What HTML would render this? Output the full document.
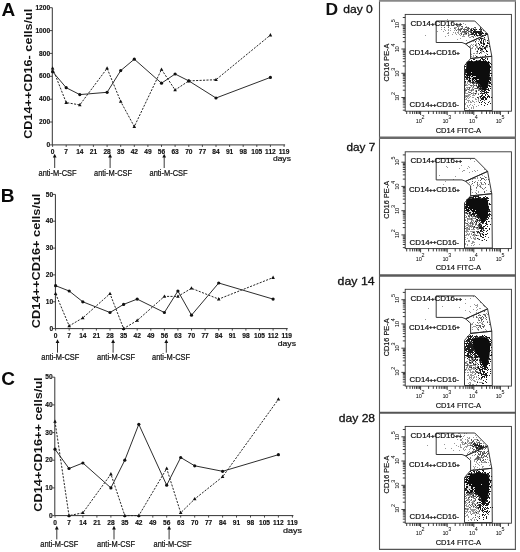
<!DOCTYPE html>
<html><head><meta charset="utf-8"><style>
html,body{margin:0;padding:0;background:#fff;}
svg{display:block;font-family:"Liberation Sans", sans-serif;filter:grayscale(1);}
</style></head><body>
<svg width="520" height="552" viewBox="0 0 520 552">
<defs><filter id="bl" x="-5%" y="-5%" width="110%" height="110%"><feGaussianBlur stdDeviation="0.35"/></filter></defs>
<rect width="520" height="552" fill="#fff"/>
<path d="M52.3,7.7 V144.9 H285.1" fill="none" stroke="#333" stroke-width="1"/>
<text x="50.1" y="147.0" text-anchor="end" font-size="6.6" font-weight="bold" fill="#111" stroke="#111" stroke-width="0.15">0</text>
<text x="50.1" y="124.1" text-anchor="end" font-size="6.6" font-weight="bold" fill="#111" stroke="#111" stroke-width="0.15">200</text>
<text x="50.1" y="101.3" text-anchor="end" font-size="6.6" font-weight="bold" fill="#111" stroke="#111" stroke-width="0.15">400</text>
<text x="50.1" y="78.4" text-anchor="end" font-size="6.6" font-weight="bold" fill="#111" stroke="#111" stroke-width="0.15">600</text>
<text x="50.1" y="55.5" text-anchor="end" font-size="6.6" font-weight="bold" fill="#111" stroke="#111" stroke-width="0.15">800</text>
<text x="50.1" y="32.7" text-anchor="end" font-size="6.6" font-weight="bold" fill="#111" stroke="#111" stroke-width="0.15">1000</text>
<text x="50.1" y="9.8" text-anchor="end" font-size="6.6" font-weight="bold" fill="#111" stroke="#111" stroke-width="0.15">1200</text>
<text x="52.6" y="154.2" text-anchor="middle" font-size="6.6" font-weight="bold" fill="#111" stroke="#111" stroke-width="0.15">0</text>
<text x="66.2" y="154.2" text-anchor="middle" font-size="6.6" font-weight="bold" fill="#111" stroke="#111" stroke-width="0.15">7</text>
<text x="79.8" y="154.2" text-anchor="middle" font-size="6.6" font-weight="bold" fill="#111" stroke="#111" stroke-width="0.15">14</text>
<text x="93.4" y="154.2" text-anchor="middle" font-size="6.6" font-weight="bold" fill="#111" stroke="#111" stroke-width="0.15">21</text>
<text x="107.1" y="154.2" text-anchor="middle" font-size="6.6" font-weight="bold" fill="#111" stroke="#111" stroke-width="0.15">28</text>
<text x="120.7" y="154.2" text-anchor="middle" font-size="6.6" font-weight="bold" fill="#111" stroke="#111" stroke-width="0.15">35</text>
<text x="134.3" y="154.2" text-anchor="middle" font-size="6.6" font-weight="bold" fill="#111" stroke="#111" stroke-width="0.15">42</text>
<text x="147.9" y="154.2" text-anchor="middle" font-size="6.6" font-weight="bold" fill="#111" stroke="#111" stroke-width="0.15">49</text>
<text x="161.5" y="154.2" text-anchor="middle" font-size="6.6" font-weight="bold" fill="#111" stroke="#111" stroke-width="0.15">56</text>
<text x="175.1" y="154.2" text-anchor="middle" font-size="6.6" font-weight="bold" fill="#111" stroke="#111" stroke-width="0.15">63</text>
<text x="188.8" y="154.2" text-anchor="middle" font-size="6.6" font-weight="bold" fill="#111" stroke="#111" stroke-width="0.15">70</text>
<text x="202.4" y="154.2" text-anchor="middle" font-size="6.6" font-weight="bold" fill="#111" stroke="#111" stroke-width="0.15">77</text>
<text x="216.0" y="154.2" text-anchor="middle" font-size="6.6" font-weight="bold" fill="#111" stroke="#111" stroke-width="0.15">84</text>
<text x="229.6" y="154.2" text-anchor="middle" font-size="6.6" font-weight="bold" fill="#111" stroke="#111" stroke-width="0.15">91</text>
<text x="243.2" y="154.2" text-anchor="middle" font-size="6.6" font-weight="bold" fill="#111" stroke="#111" stroke-width="0.15">98</text>
<text x="256.8" y="154.2" text-anchor="middle" font-size="6.6" font-weight="bold" fill="#111" stroke="#111" stroke-width="0.15">105</text>
<text x="270.4" y="154.2" text-anchor="middle" font-size="6.6" font-weight="bold" fill="#111" stroke="#111" stroke-width="0.15">112</text>
<text x="284.1" y="154.2" text-anchor="middle" font-size="6.6" font-weight="bold" fill="#111" stroke="#111" stroke-width="0.15">119</text>
<path d="M49.8,144.9H52.3M49.8,122.0H52.3M49.8,99.2H52.3M49.8,76.3H52.3M49.8,53.4H52.3M49.8,30.6H52.3M49.8,7.7H52.3M52.6,144.9V146.9M66.2,144.9V146.9M79.8,144.9V146.9M93.4,144.9V146.9M107.1,144.9V146.9M120.7,144.9V146.9M134.3,144.9V146.9M147.9,144.9V146.9M161.5,144.9V146.9M175.1,144.9V146.9M188.8,144.9V146.9M202.4,144.9V146.9M216.0,144.9V146.9M229.6,144.9V146.9M243.2,144.9V146.9M256.8,144.9V146.9M270.4,144.9V146.9M284.1,144.9V146.9" stroke="#333" stroke-width="0.9"/>
<polyline points="52.6,68.3 66.2,102.6 79.8,104.9 107.1,68.3 120.7,101.5 134.3,126.6 161.5,69.4 175.1,90.0 188.8,80.9 216.0,79.7 270.4,35.1" fill="none" stroke="#262626" stroke-width="1" stroke-dasharray="2.1,1.35"/>
<polyline points="52.6,71.7 66.2,87.7 79.8,94.6 107.1,92.3 120.7,70.6 134.3,59.2 161.5,83.2 175.1,74.0 188.8,80.9 216.0,98.0 270.4,77.4" fill="none" stroke="#222" stroke-width="0.95"/>
<circle cx="52.6" cy="71.7" r="1.6" fill="#111"/>
<circle cx="66.2" cy="87.7" r="1.6" fill="#111"/>
<circle cx="79.8" cy="94.6" r="1.6" fill="#111"/>
<circle cx="107.1" cy="92.3" r="1.6" fill="#111"/>
<circle cx="120.7" cy="70.6" r="1.6" fill="#111"/>
<circle cx="134.3" cy="59.2" r="1.6" fill="#111"/>
<circle cx="161.5" cy="83.2" r="1.6" fill="#111"/>
<circle cx="175.1" cy="74.0" r="1.6" fill="#111"/>
<circle cx="188.8" cy="80.9" r="1.6" fill="#111"/>
<circle cx="216.0" cy="98.0" r="1.6" fill="#111"/>
<circle cx="270.4" cy="77.4" r="1.6" fill="#111"/>
<path d="M52.6,66.3L54.4,69.6L50.8,69.6Z" fill="#111"/>
<path d="M66.2,100.6L68.0,103.9L64.4,103.9Z" fill="#111"/>
<path d="M79.8,102.9L81.6,106.2L78.0,106.2Z" fill="#111"/>
<path d="M107.1,66.3L108.9,69.6L105.3,69.6Z" fill="#111"/>
<path d="M120.7,99.5L122.5,102.8L118.9,102.8Z" fill="#111"/>
<path d="M134.3,124.6L136.1,127.9L132.5,127.9Z" fill="#111"/>
<path d="M161.5,67.4L163.3,70.7L159.7,70.7Z" fill="#111"/>
<path d="M175.1,88.0L176.9,91.3L173.3,91.3Z" fill="#111"/>
<path d="M188.8,78.9L190.6,82.2L186.9,82.2Z" fill="#111"/>
<path d="M216.0,77.7L217.8,81.0L214.2,81.0Z" fill="#111"/>
<path d="M270.4,33.1L272.2,36.4L268.6,36.4Z" fill="#111"/>
<text x="272.9" y="160.9" font-size="7.9" fill="#111" stroke="#111" stroke-width="0.2" textLength="18.0" lengthAdjust="spacingAndGlyphs">days</text>
<path d="M54.7,168.0V156.3" stroke="#222" stroke-width="0.9"/>
<path d="M52.8,157.6L54.7,153.8L56.6,157.6Z" fill="#111"/>
<text x="57.5" y="175.6" text-anchor="middle" font-size="8.2" fill="#111" stroke="#111" stroke-width="0.22" textLength="38" lengthAdjust="spacingAndGlyphs">anti-M-CSF</text>
<path d="M110.1,168.0V156.3" stroke="#222" stroke-width="0.9"/>
<path d="M108.2,157.6L110.1,153.8L112.0,157.6Z" fill="#111"/>
<text x="113.0" y="175.6" text-anchor="middle" font-size="8.2" fill="#111" stroke="#111" stroke-width="0.22" textLength="38" lengthAdjust="spacingAndGlyphs">anti-M-CSF</text>
<path d="M164.2,168.0V156.3" stroke="#222" stroke-width="0.9"/>
<path d="M162.3,157.6L164.2,153.8L166.1,157.6Z" fill="#111"/>
<text x="168.5" y="175.6" text-anchor="middle" font-size="8.2" fill="#111" stroke="#111" stroke-width="0.22" textLength="38" lengthAdjust="spacingAndGlyphs">anti-M-CSF</text>
<text transform="translate(32.400000000000006,73.8) rotate(-90)" text-anchor="middle" font-size="10.6" font-weight="bold" fill="#111" textLength="130.1" lengthAdjust="spacingAndGlyphs">CD14++CD16- cells/ul</text>
<text x="1.5" y="16.3" font-size="19" font-weight="bold" fill="#0a0a0a">A</text>
<path d="M55.4,194.4 V328.6 H287.7" fill="none" stroke="#333" stroke-width="1"/>
<text x="53.2" y="330.7" text-anchor="end" font-size="6.6" font-weight="bold" fill="#111" stroke="#111" stroke-width="0.15">0</text>
<text x="53.2" y="303.9" text-anchor="end" font-size="6.6" font-weight="bold" fill="#111" stroke="#111" stroke-width="0.15">10</text>
<text x="53.2" y="277.0" text-anchor="end" font-size="6.6" font-weight="bold" fill="#111" stroke="#111" stroke-width="0.15">20</text>
<text x="53.2" y="250.2" text-anchor="end" font-size="6.6" font-weight="bold" fill="#111" stroke="#111" stroke-width="0.15">30</text>
<text x="53.2" y="223.3" text-anchor="end" font-size="6.6" font-weight="bold" fill="#111" stroke="#111" stroke-width="0.15">40</text>
<text x="53.2" y="196.5" text-anchor="end" font-size="6.6" font-weight="bold" fill="#111" stroke="#111" stroke-width="0.15">50</text>
<text x="55.6" y="337.9" text-anchor="middle" font-size="6.6" font-weight="bold" fill="#111" stroke="#111" stroke-width="0.15">0</text>
<text x="69.2" y="337.9" text-anchor="middle" font-size="6.6" font-weight="bold" fill="#111" stroke="#111" stroke-width="0.15">7</text>
<text x="82.8" y="337.9" text-anchor="middle" font-size="6.6" font-weight="bold" fill="#111" stroke="#111" stroke-width="0.15">14</text>
<text x="96.4" y="337.9" text-anchor="middle" font-size="6.6" font-weight="bold" fill="#111" stroke="#111" stroke-width="0.15">21</text>
<text x="110.0" y="337.9" text-anchor="middle" font-size="6.6" font-weight="bold" fill="#111" stroke="#111" stroke-width="0.15">28</text>
<text x="123.6" y="337.9" text-anchor="middle" font-size="6.6" font-weight="bold" fill="#111" stroke="#111" stroke-width="0.15">35</text>
<text x="137.2" y="337.9" text-anchor="middle" font-size="6.6" font-weight="bold" fill="#111" stroke="#111" stroke-width="0.15">42</text>
<text x="150.8" y="337.9" text-anchor="middle" font-size="6.6" font-weight="bold" fill="#111" stroke="#111" stroke-width="0.15">49</text>
<text x="164.4" y="337.9" text-anchor="middle" font-size="6.6" font-weight="bold" fill="#111" stroke="#111" stroke-width="0.15">56</text>
<text x="177.9" y="337.9" text-anchor="middle" font-size="6.6" font-weight="bold" fill="#111" stroke="#111" stroke-width="0.15">63</text>
<text x="191.5" y="337.9" text-anchor="middle" font-size="6.6" font-weight="bold" fill="#111" stroke="#111" stroke-width="0.15">70</text>
<text x="205.1" y="337.9" text-anchor="middle" font-size="6.6" font-weight="bold" fill="#111" stroke="#111" stroke-width="0.15">77</text>
<text x="218.7" y="337.9" text-anchor="middle" font-size="6.6" font-weight="bold" fill="#111" stroke="#111" stroke-width="0.15">84</text>
<text x="232.3" y="337.9" text-anchor="middle" font-size="6.6" font-weight="bold" fill="#111" stroke="#111" stroke-width="0.15">91</text>
<text x="245.9" y="337.9" text-anchor="middle" font-size="6.6" font-weight="bold" fill="#111" stroke="#111" stroke-width="0.15">98</text>
<text x="259.5" y="337.9" text-anchor="middle" font-size="6.6" font-weight="bold" fill="#111" stroke="#111" stroke-width="0.15">105</text>
<text x="273.1" y="337.9" text-anchor="middle" font-size="6.6" font-weight="bold" fill="#111" stroke="#111" stroke-width="0.15">112</text>
<text x="286.7" y="337.9" text-anchor="middle" font-size="6.6" font-weight="bold" fill="#111" stroke="#111" stroke-width="0.15">119</text>
<path d="M52.9,328.6H55.4M52.9,301.8H55.4M52.9,274.9H55.4M52.9,248.1H55.4M52.9,221.2H55.4M52.9,194.4H55.4M55.6,328.6V330.6M69.2,328.6V330.6M82.8,328.6V330.6M96.4,328.6V330.6M110.0,328.6V330.6M123.6,328.6V330.6M137.2,328.6V330.6M150.8,328.6V330.6M164.4,328.6V330.6M177.9,328.6V330.6M191.5,328.6V330.6M205.1,328.6V330.6M218.7,328.6V330.6M232.3,328.6V330.6M245.9,328.6V330.6M259.5,328.6V330.6M273.1,328.6V330.6M286.7,328.6V330.6" stroke="#333" stroke-width="0.9"/>
<polyline points="55.6,293.7 69.2,325.9 82.8,317.9 110.0,293.7 123.6,328.6 137.2,320.5 164.4,296.4 177.9,296.4 191.5,288.3 218.7,299.1 273.1,277.6" fill="none" stroke="#262626" stroke-width="1" stroke-dasharray="2.1,1.35"/>
<polyline points="55.6,285.7 69.2,291.0 82.8,301.8 110.0,312.5 123.6,304.4 137.2,299.1 164.4,312.5 177.9,291.0 191.5,315.2 218.7,283.0 273.1,299.1" fill="none" stroke="#222" stroke-width="0.95"/>
<circle cx="55.6" cy="285.7" r="1.6" fill="#111"/>
<circle cx="69.2" cy="291.0" r="1.6" fill="#111"/>
<circle cx="82.8" cy="301.8" r="1.6" fill="#111"/>
<circle cx="110.0" cy="312.5" r="1.6" fill="#111"/>
<circle cx="123.6" cy="304.4" r="1.6" fill="#111"/>
<circle cx="137.2" cy="299.1" r="1.6" fill="#111"/>
<circle cx="164.4" cy="312.5" r="1.6" fill="#111"/>
<circle cx="177.9" cy="291.0" r="1.6" fill="#111"/>
<circle cx="191.5" cy="315.2" r="1.6" fill="#111"/>
<circle cx="218.7" cy="283.0" r="1.6" fill="#111"/>
<circle cx="273.1" cy="299.1" r="1.6" fill="#111"/>
<path d="M55.6,291.7L57.4,295.0L53.8,295.0Z" fill="#111"/>
<path d="M69.2,323.9L71.0,327.2L67.4,327.2Z" fill="#111"/>
<path d="M82.8,315.9L84.6,319.2L81.0,319.2Z" fill="#111"/>
<path d="M110.0,291.7L111.8,295.0L108.2,295.0Z" fill="#111"/>
<path d="M123.6,326.6L125.4,329.9L121.8,329.9Z" fill="#111"/>
<path d="M137.2,318.5L139.0,321.8L135.4,321.8Z" fill="#111"/>
<path d="M164.4,294.4L166.2,297.7L162.6,297.7Z" fill="#111"/>
<path d="M177.9,294.4L179.7,297.7L176.1,297.7Z" fill="#111"/>
<path d="M191.5,286.3L193.3,289.6L189.7,289.6Z" fill="#111"/>
<path d="M218.7,297.1L220.5,300.4L216.9,300.4Z" fill="#111"/>
<path d="M273.1,275.6L274.9,278.9L271.3,278.9Z" fill="#111"/>
<text x="277.7" y="346.2" font-size="7.9" fill="#111" stroke="#111" stroke-width="0.2" textLength="18.3" lengthAdjust="spacingAndGlyphs">days</text>
<path d="M57.5,352.7V341.8" stroke="#222" stroke-width="0.9"/>
<path d="M55.6,343.1L57.5,339.3L59.4,343.1Z" fill="#111"/>
<text x="60.3" y="359.6" text-anchor="middle" font-size="8.2" fill="#111" stroke="#111" stroke-width="0.22" textLength="38" lengthAdjust="spacingAndGlyphs">anti-M-CSF</text>
<path d="M113.1,352.7V341.8" stroke="#222" stroke-width="0.9"/>
<path d="M111.2,343.1L113.1,339.3L115.0,343.1Z" fill="#111"/>
<text x="116.1" y="359.6" text-anchor="middle" font-size="8.2" fill="#111" stroke="#111" stroke-width="0.22" textLength="38" lengthAdjust="spacingAndGlyphs">anti-M-CSF</text>
<path d="M166.3,352.7V341.8" stroke="#222" stroke-width="0.9"/>
<path d="M164.4,343.1L166.3,339.3L168.2,343.1Z" fill="#111"/>
<text x="171.0" y="359.6" text-anchor="middle" font-size="8.2" fill="#111" stroke="#111" stroke-width="0.22" textLength="38" lengthAdjust="spacingAndGlyphs">anti-M-CSF</text>
<text transform="translate(39.900000000000006,260.9) rotate(-90)" text-anchor="middle" font-size="10.6" font-weight="bold" fill="#111" textLength="134.5" lengthAdjust="spacingAndGlyphs">CD14++CD16+ cells/ul</text>
<text x="0.7" y="202.4" font-size="19" font-weight="bold" fill="#0a0a0a">B</text>
<path d="M54.8,377.2 V515.6 H293.4" fill="none" stroke="#333" stroke-width="1"/>
<text x="52.6" y="517.7" text-anchor="end" font-size="6.6" font-weight="bold" fill="#111" stroke="#111" stroke-width="0.15">0</text>
<text x="52.6" y="490.0" text-anchor="end" font-size="6.6" font-weight="bold" fill="#111" stroke="#111" stroke-width="0.15">10</text>
<text x="52.6" y="462.3" text-anchor="end" font-size="6.6" font-weight="bold" fill="#111" stroke="#111" stroke-width="0.15">20</text>
<text x="52.6" y="434.7" text-anchor="end" font-size="6.6" font-weight="bold" fill="#111" stroke="#111" stroke-width="0.15">30</text>
<text x="52.6" y="407.0" text-anchor="end" font-size="6.6" font-weight="bold" fill="#111" stroke="#111" stroke-width="0.15">40</text>
<text x="52.6" y="379.3" text-anchor="end" font-size="6.6" font-weight="bold" fill="#111" stroke="#111" stroke-width="0.15">50</text>
<text x="55.0" y="524.9" text-anchor="middle" font-size="6.6" font-weight="bold" fill="#111" stroke="#111" stroke-width="0.15">0</text>
<text x="69.0" y="524.9" text-anchor="middle" font-size="6.6" font-weight="bold" fill="#111" stroke="#111" stroke-width="0.15">7</text>
<text x="82.9" y="524.9" text-anchor="middle" font-size="6.6" font-weight="bold" fill="#111" stroke="#111" stroke-width="0.15">14</text>
<text x="96.9" y="524.9" text-anchor="middle" font-size="6.6" font-weight="bold" fill="#111" stroke="#111" stroke-width="0.15">21</text>
<text x="110.9" y="524.9" text-anchor="middle" font-size="6.6" font-weight="bold" fill="#111" stroke="#111" stroke-width="0.15">28</text>
<text x="124.8" y="524.9" text-anchor="middle" font-size="6.6" font-weight="bold" fill="#111" stroke="#111" stroke-width="0.15">35</text>
<text x="138.8" y="524.9" text-anchor="middle" font-size="6.6" font-weight="bold" fill="#111" stroke="#111" stroke-width="0.15">42</text>
<text x="152.8" y="524.9" text-anchor="middle" font-size="6.6" font-weight="bold" fill="#111" stroke="#111" stroke-width="0.15">49</text>
<text x="166.7" y="524.9" text-anchor="middle" font-size="6.6" font-weight="bold" fill="#111" stroke="#111" stroke-width="0.15">56</text>
<text x="180.7" y="524.9" text-anchor="middle" font-size="6.6" font-weight="bold" fill="#111" stroke="#111" stroke-width="0.15">63</text>
<text x="194.7" y="524.9" text-anchor="middle" font-size="6.6" font-weight="bold" fill="#111" stroke="#111" stroke-width="0.15">70</text>
<text x="208.6" y="524.9" text-anchor="middle" font-size="6.6" font-weight="bold" fill="#111" stroke="#111" stroke-width="0.15">77</text>
<text x="222.6" y="524.9" text-anchor="middle" font-size="6.6" font-weight="bold" fill="#111" stroke="#111" stroke-width="0.15">84</text>
<text x="236.5" y="524.9" text-anchor="middle" font-size="6.6" font-weight="bold" fill="#111" stroke="#111" stroke-width="0.15">91</text>
<text x="250.5" y="524.9" text-anchor="middle" font-size="6.6" font-weight="bold" fill="#111" stroke="#111" stroke-width="0.15">98</text>
<text x="264.5" y="524.9" text-anchor="middle" font-size="6.6" font-weight="bold" fill="#111" stroke="#111" stroke-width="0.15">105</text>
<text x="278.4" y="524.9" text-anchor="middle" font-size="6.6" font-weight="bold" fill="#111" stroke="#111" stroke-width="0.15">112</text>
<text x="292.4" y="524.9" text-anchor="middle" font-size="6.6" font-weight="bold" fill="#111" stroke="#111" stroke-width="0.15">119</text>
<path d="M52.3,515.6H54.8M52.3,487.9H54.8M52.3,460.2H54.8M52.3,432.6H54.8M52.3,404.9H54.8M52.3,377.2H54.8M55.0,515.6V517.6M69.0,515.6V517.6M82.9,515.6V517.6M96.9,515.6V517.6M110.9,515.6V517.6M124.8,515.6V517.6M138.8,515.6V517.6M152.8,515.6V517.6M166.7,515.6V517.6M180.7,515.6V517.6M194.7,515.6V517.6M208.6,515.6V517.6M222.6,515.6V517.6M236.5,515.6V517.6M250.5,515.6V517.6M264.5,515.6V517.6M278.4,515.6V517.6M292.4,515.6V517.6" stroke="#333" stroke-width="0.9"/>
<polyline points="55.0,421.5 69.0,515.6 82.9,512.8 110.9,474.1 124.8,515.6 138.8,515.6 166.7,468.5 180.7,512.8 194.7,499.0 222.6,476.8 278.4,399.3" fill="none" stroke="#262626" stroke-width="1" stroke-dasharray="2.1,1.35"/>
<polyline points="55.0,449.2 69.0,468.5 82.9,463.0 110.9,487.9 124.8,460.2 138.8,424.3 166.7,485.2 180.7,457.5 194.7,465.8 222.6,471.3 278.4,454.7" fill="none" stroke="#222" stroke-width="0.95"/>
<circle cx="55.0" cy="449.2" r="1.6" fill="#111"/>
<circle cx="69.0" cy="468.5" r="1.6" fill="#111"/>
<circle cx="82.9" cy="463.0" r="1.6" fill="#111"/>
<circle cx="110.9" cy="487.9" r="1.6" fill="#111"/>
<circle cx="124.8" cy="460.2" r="1.6" fill="#111"/>
<circle cx="138.8" cy="424.3" r="1.6" fill="#111"/>
<circle cx="166.7" cy="485.2" r="1.6" fill="#111"/>
<circle cx="180.7" cy="457.5" r="1.6" fill="#111"/>
<circle cx="194.7" cy="465.8" r="1.6" fill="#111"/>
<circle cx="222.6" cy="471.3" r="1.6" fill="#111"/>
<circle cx="278.4" cy="454.7" r="1.6" fill="#111"/>
<path d="M55.0,419.5L56.8,422.8L53.2,422.8Z" fill="#111"/>
<path d="M69.0,513.6L70.8,516.9L67.2,516.9Z" fill="#111"/>
<path d="M82.9,510.8L84.7,514.1L81.1,514.1Z" fill="#111"/>
<path d="M110.9,472.1L112.7,475.4L109.1,475.4Z" fill="#111"/>
<path d="M124.8,513.6L126.6,516.9L123.0,516.9Z" fill="#111"/>
<path d="M138.8,513.6L140.6,516.9L137.0,516.9Z" fill="#111"/>
<path d="M166.7,466.5L168.5,469.8L164.9,469.8Z" fill="#111"/>
<path d="M180.7,510.8L182.5,514.1L178.9,514.1Z" fill="#111"/>
<path d="M194.7,497.0L196.5,500.3L192.8,500.3Z" fill="#111"/>
<path d="M222.6,474.8L224.4,478.1L220.8,478.1Z" fill="#111"/>
<path d="M278.4,397.3L280.2,400.6L276.6,400.6Z" fill="#111"/>
<text x="283" y="532.8" font-size="7.9" fill="#111" stroke="#111" stroke-width="0.2" textLength="19.0" lengthAdjust="spacingAndGlyphs">days</text>
<path d="M56.8,539.4V528.3" stroke="#222" stroke-width="0.9"/>
<path d="M54.9,529.6L56.8,525.8L58.7,529.6Z" fill="#111"/>
<text x="59.3" y="546.8" text-anchor="middle" font-size="8.2" fill="#111" stroke="#111" stroke-width="0.22" textLength="38" lengthAdjust="spacingAndGlyphs">anti-M-CSF</text>
<path d="M114.0,539.4V528.3" stroke="#222" stroke-width="0.9"/>
<path d="M112.1,529.6L114.0,525.8L115.9,529.6Z" fill="#111"/>
<text x="116.1" y="546.8" text-anchor="middle" font-size="8.2" fill="#111" stroke="#111" stroke-width="0.22" textLength="38" lengthAdjust="spacingAndGlyphs">anti-M-CSF</text>
<path d="M169.1,539.4V528.3" stroke="#222" stroke-width="0.9"/>
<path d="M167.2,529.6L169.1,525.8L171.0,529.6Z" fill="#111"/>
<text x="172.5" y="546.8" text-anchor="middle" font-size="8.2" fill="#111" stroke="#111" stroke-width="0.22" textLength="38" lengthAdjust="spacingAndGlyphs">anti-M-CSF</text>
<text transform="translate(42.2,444.5) rotate(-90)" text-anchor="middle" font-size="10.6" font-weight="bold" fill="#111" textLength="134.3" lengthAdjust="spacingAndGlyphs">CD14+CD16++ cells/ul</text>
<text x="1.2" y="385.1" font-size="19" font-weight="bold" fill="#0a0a0a">C</text>
<path d="M379.5,0 V549.4 M515.4,0 V549.4" stroke="#555" stroke-width="1.1"/>
<path d="M379,0.8 H516" stroke="#888" stroke-width="1.7"/>
<path d="M379,137.7 H516" stroke="#6a6a6a" stroke-width="2.6"/>
<path d="M379,275.5 H516" stroke="#5a5a5a" stroke-width="2.3"/>
<path d="M379,412.8 H516" stroke="#555" stroke-width="2"/>
<path d="M379,549.4 H516" stroke="#555" stroke-width="1.3"/>
<text x="325.6" y="15.4" font-size="16.6" font-weight="bold" fill="#111" textLength="12.6" lengthAdjust="spacingAndGlyphs">D</text>
<rect x="405.2" y="14.4" width="106.2" height="96.8" fill="none" stroke="#333" stroke-width="0.9"/>
<text x="343.2" y="12.5" font-size="11.3" fill="#111" stroke="#111" stroke-width="0.3" textLength="29.6" lengthAdjust="spacingAndGlyphs">day 0</text>
<g filter="url(#bl)">
<path d="M0 0m447 19h1v1h-1zm16 4h1v1h-1zm2 1h1v1h-1zm-8 1h1v1h-1zm1 0h1v1h-1zm1 0h1v1h-1zm-11 1h1v1h-1zm9 0h1v1h-1zm1 0h1v1h-1zm1 0h1v1h-1zm7 0h1v1h-1zm-25 1h1v1h-1zm13 0h1v1h-1zm1 0h1v1h-1zm1 0h1v1h-1zm2 0h1v1h-1zm4 0h1v1h-1zm4 0h1v1h-1zm1 0h1v1h-1zm-17 1h1v1h-1zm4 0h1v1h-1zm1 0h1v1h-1zm5 0h1v1h-1zm4 0h1v1h-1zm3 0h1v1h-1zm1 0h1v1h-1zm4 0h1v1h-1zm3 0h1v1h-1zm-34 1h1v1h-1zm3 0h1v1h-1zm4 0h1v1h-1zm7 0h1v1h-1zm2 0h1v1h-1zm4 0h1v1h-1zm5 0h1v1h-1zm1 0h1v1h-1zm1 0h1v1h-1zm-23 1h1v1h-1zm3 0h1v1h-1zm2 0h1v1h-1zm4 0h1v1h-1zm2 0h1v1h-1zm2 0h1v1h-1zm1 0h1v1h-1zm5 0h1v1h-1zm2 0h1v1h-1zm2 0h1v1h-1zm7 0h1v1h-1zm5 0h1v1h-1zm-43 1h1v1h-1zm6 0h1v1h-1zm15 0h1v1h-1zm2 0h1v1h-1zm2 0h1v1h-1zm1 0h1v1h-1zm5 0h1v1h-1zm9 0h1v1h-1zm-29 1h1v1h-1zm5 0h1v1h-1zm2 0h1v1h-1zm2 0h1v1h-1zm1 0h1v1h-1zm3 0h1v1h-1zm1 0h1v1h-1zm1 0h1v1h-1zm3 0h1v1h-1zm1 0h1v1h-1zm1 0h1v1h-1zm2 0h1v1h-1zm1 0h1v1h-1zm1 0h1v1h-1zm2 0h1v1h-1zm-27 1h1v1h-1zm1 0h1v1h-1zm7 0h1v1h-1zm3 0h1v1h-1zm2 0h1v1h-1zm4 0h1v1h-1zm-12 1h1v1h-1zm4 0h1v1h-1zm3 0h1v1h-1zm5 0h1v1h-1zm1 0h1v1h-1zm1 0h1v1h-1zm2 0h1v1h-1zm1 0h1v1h-1zm-44 1h1v1h-1zm23 0h1v1h-1zm12 0h1v1h-1zm3 0h1v1h-1zm6 0h1v1h-1zm12 0h1v1h-1zm-36 1h1v1h-1zm17 0h1v1h-1zm1 0h1v1h-1zm1 0h1v1h-1zm4 0h1v1h-1zm3 0h1v1h-1zm2 0h1v1h-1zm2 0h1v1h-1zm2 0h1v1h-1zm-8 1h1v1h-1zm1 0h1v1h-1zm-10 1h1v1h-1zm16 0h1v1h-1zm4 0h1v1h-1zm3 0h1v1h-1zm1 0h1v1h-1zm-27 1h1v1h-1zm18 0h1v1h-1zm3 0h1v1h-1zm5 0h1v1h-1zm2 0h1v1h-1zm-19 1h1v1h-1zm8 0h1v1h-1zm2 0h1v1h-1zm3 0h1v1h-1zm6 0h1v1h-1zm-12 1h1v1h-1zm2 0h1v1h-1zm3 0h1v1h-1zm3 0h1v1h-1zm4 0h1v1h-1zm-10 1h1v1h-1zm6 0h1v1h-1zm-5 1h1v1h-1zm4 0h1v1h-1zm2 0h1v1h-1zm6 0h1v1h-1zm-17 1h1v1h-1zm2 0h1v1h-1zm2 0h1v1h-1zm1 0h1v1h-1zm-6 1h1v1h-1zm2 0h1v1h-1zm4 0h1v1h-1zm3 0h1v1h-1zm2 0h1v1h-1zm2 0h1v1h-1zm-14 1h1v1h-1zm1 0h1v1h-1zm3 0h1v1h-1zm3 0h1v1h-1zm1 0h1v1h-1zm3 0h1v1h-1zm2 0h1v1h-1zm3 0h1v1h-1zm2 0h1v1h-1zm-17 1h1v1h-1zm2 0h1v1h-1zm4 0h1v1h-1zm1 0h1v1h-1zm3 0h1v1h-1zm2 0h1v1h-1zm4 0h1v1h-1zm1 0h1v1h-1zm-16 1h1v1h-1zm1 0h1v1h-1zm3 0h1v1h-1zm2 0h1v1h-1zm2 0h1v1h-1zm1 0h1v1h-1zm1 0h1v1h-1zm1 0h1v1h-1zm1 0h1v1h-1zm-8 1h1v1h-1zm5 0h1v1h-1zm-3 1h1v1h-1zm3 0h1v1h-1zm1 0h1v1h-1zm1 0h1v1h-1zm-6 1h1v1h-1zm5 0h1v1h-1zm1 0h1v1h-1zm-5 1h1v1h-1zm3 0h1v1h-1zm1 0h1v1h-1zm3 0h1v1h-1zm-14 1h1v1h-1zm3 0h1v1h-1zm1 0h1v1h-1zm2 0h1v1h-1zm1 0h1v1h-1zm2 0h1v1h-1zm2 0h1v1h-1zm5 0h1v1h-1zm-15 1h1v1h-1zm2 1h1v1h-1zm2 0h1v1h-1zm-4 1h1v1h-1zm2 0h1v1h-1zm3 0h1v1h-1zm1 0h1v1h-1zm3 0h1v1h-1zm2 0h1v1h-1zm-7 1h1v1h-1zm3 3h1v1h-1zm-11 3h1v1h-1zm8 0h1v1h-1zm-3 3h1v1h-1zm0 2h1v1h-1zm4 0h1v1h-1zm-6 1h1v1h-1zm-5 1h1v1h-1zm15 0h1v1h-1zm-14 1h1v1h-1zm7 0h1v1h-1zm-5 1h1v1h-1zm5 0h1v1h-1zm-1 1h1v1h-1zm4 0h1v1h-1zm-4 1h1v1h-1zm-8 1h1v1h-1zm4 0h1v1h-1zm1 0h1v1h-1zm2 0h1v1h-1zm-7 1h1v1h-1zm4 0h1v1h-1zm4 0h1v1h-1zm-7 1h1v1h-1zm2 0h1v1h-1zm1 0h1v1h-1zm4 0h1v1h-1zm1 0h1v1h-1zm-5 1h1v1h-1zm3 0h1v1h-1zm3 0h1v1h-1zm-9 1h1v1h-1zm2 0h1v1h-1zm1 0h1v1h-1zm4 0h1v1h-1zm3 0h1v1h-1zm-5 1h1v1h-1zm1 0h1v1h-1zm2 0h1v1h-1zm-8 1h1v1h-1zm2 0h1v1h-1zm2 0h1v1h-1zm1 0h1v1h-1zm4 0h1v1h-1zm1 0h1v1h-1zm1 0h1v1h-1zm1 0h1v1h-1zm2 0h1v1h-1zm-15 1h1v1h-1zm1 0h1v1h-1zm2 0h1v1h-1zm2 0h1v1h-1zm2 0h1v1h-1zm1 0h1v1h-1zm2 0h1v1h-1zm1 0h1v1h-1zm2 0h1v1h-1zm-12 1h1v1h-1zm2 0h1v1h-1zm3 0h1v1h-1zm5 0h1v1h-1zm1 0h1v1h-1zm1 0h1v1h-1zm1 0h1v1h-1zm-13 1h1v1h-1zm1 0h1v1h-1zm2 0h1v1h-1zm1 0h1v1h-1zm7 0h1v1h-1zm4 0h1v1h-1zm-16 1h1v1h-1zm1 0h1v1h-1zm1 0h1v1h-1zm1 0h1v1h-1zm5 0h1v1h-1zm1 0h1v1h-1zm1 0h1v1h-1zm1 0h1v1h-1zm-11 1h1v1h-1zm7 0h1v1h-1zm5 0h1v1h-1zm1 0h1v1h-1zm2 0h1v1h-1zm-15 1h1v1h-1zm2 0h1v1h-1zm1 0h1v1h-1zm1 0h1v1h-1zm1 0h1v1h-1zm1 0h1v1h-1zm2 0h1v1h-1zm1 0h1v1h-1zm5 0h1v1h-1zm1 0h1v1h-1zm-14 1h1v1h-1zm2 0h1v1h-1zm2 0h1v1h-1zm3 0h1v1h-1zm2 0h1v1h-1zm4 0h1v1h-1zm2 0h1v1h-1zm-15 1h1v1h-1zm1 0h1v1h-1zm1 0h1v1h-1zm2 0h1v1h-1zm2 0h1v1h-1zm1 0h1v1h-1zm6 0h1v1h-1zm1 0h1v1h-1zm-13 1h1v1h-1zm3 0h1v1h-1zm1 0h1v1h-1zm2 0h1v1h-1zm1 0h1v1h-1zm2 0h1v1h-1zm3 0h1v1h-1zm1 0h1v1h-1zm-14 1h1v1h-1zm3 0h1v1h-1zm3 0h1v1h-1zm4 0h1v1h-1zm6 0h1v1h-1zm2 0h1v1h-1zm-18 1h1v1h-1zm3 0h1v1h-1zm5 0h1v1h-1zm3 0h1v1h-1zm5 0h1v1h-1zm-16 1h1v1h-1zm1 0h1v1h-1zm1 0h1v1h-1zm5 0h1v1h-1zm1 0h1v1h-1zm1 0h1v1h-1zm2 0h1v1h-1zm2 0h1v1h-1zm-10 1h1v1h-1zm1 0h1v1h-1zm1 0h1v1h-1zm3 0h1v1h-1zm2 0h1v1h-1zm-10 1h1v1h-1zm1 0h1v1h-1zm1 0h1v1h-1zm1 0h1v1h-1zm1 0h1v1h-1zm3 0h1v1h-1zm1 0h1v1h-1zm1 0h1v1h-1zm-9 1h1v1h-1zm2 0h1v1h-1zm1 0h1v1h-1zm2 0h1v1h-1zm9 0h1v1h-1zm-14 1h1v1h-1zm2 0h1v1h-1zm2 0h1v1h-1zm3 0h1v1h-1zm1 0h1v1h-1zm-7 1h1v1h-1zm2 0h1v1h-1zm7 0h1v1h-1zm5 0h1v1h-1zm3 0h1v1h-1zm-18 1h1v1h-1zm1 0h1v1h-1zm9 0h1v1h-1zm1 0h1v1h-1zm2 0h1v1h-1zm-11 1h1v1h-1zm1 0h1v1h-1zm1 0h1v1h-1zm3 0h1v1h-1zm6 0h1v1h-1zm-10 1h1v1h-1zm2 0h1v1h-1zm2 0h1v1h-1zm1 0h1v1h-1zm3 0h1v1h-1zm2 0h1v1h-1zm-12 1h1v1h-1zm2 0h1v1h-1zm2 0h1v1h-1zm1 0h1v1h-1zm3 0h1v1h-1zm-9 1h1v1h-1zm0 1h1v1h-1zm5 0h1v1h-1zm4 0h1v1h-1zm-7 1h1v1h-1zm2 0h1v1h-1zm3 0h1v1h-1zm6 0h1v1h-1zm-11 1h1v1h-1zm6 0h1v1h-1zm3 0h1v1h-1zm-8 1h1v1h-1zm3 0h1v1h-1zm2 0h1v1h-1zm-8 1h1v1h-1zm1 0h1v1h-1zm5 0h1v1h-1zm2 0h1v1h-1zm-4 1h1v1h-1z" fill="#9a9a9a"/>
<path d="M0 0m457 26h1v1h-1zm4 0h1v1h-1zm1 0h1v1h-1zm-18 1h1v1h-1zm4 0h1v1h-1zm17 0h1v1h-1zm1 0h1v1h-1zm2 0h1v1h-1zm6 0h1v1h-1zm1 0h1v1h-1zm5 0h1v1h-1zm-26 1h1v1h-1zm4 0h1v1h-1zm3 0h1v1h-1zm1 0h1v1h-1zm5 0h1v1h-1zm1 0h1v1h-1zm1 0h1v1h-1zm2 0h1v1h-1zm2 0h1v1h-1zm-15 1h1v1h-1zm1 0h1v1h-1zm1 0h1v1h-1zm1 0h1v1h-1zm2 0h1v1h-1zm1 0h1v1h-1zm1 0h1v1h-1zm1 0h1v1h-1zm2 0h1v1h-1zm2 0h1v1h-1zm3 0h1v1h-1zm1 0h1v1h-1zm1 0h1v1h-1zm1 0h1v1h-1zm4 0h1v1h-1zm-24 1h1v1h-1zm4 0h1v1h-1zm4 0h1v1h-1zm3 0h1v1h-1zm3 0h1v1h-1zm1 0h1v1h-1zm3 0h1v1h-1zm1 0h1v1h-1zm5 0h1v1h-1zm1 0h1v1h-1zm2 0h1v1h-1zm-23 1h1v1h-1zm2 0h1v1h-1zm1 0h1v1h-1zm1 0h1v1h-1zm1 0h1v1h-1zm1 0h1v1h-1zm2 0h1v1h-1zm1 0h1v1h-1zm1 0h1v1h-1zm1 0h1v1h-1zm6 0h1v1h-1zm1 0h1v1h-1zm-14 1h1v1h-1zm1 0h1v1h-1zm5 0h1v1h-1zm4 0h1v1h-1zm2 0h1v1h-1zm2 0h1v1h-1zm3 0h1v1h-1zm-20 1h1v1h-1zm4 0h1v1h-1zm1 0h1v1h-1zm2 0h1v1h-1zm3 0h1v1h-1zm1 0h1v1h-1zm1 0h1v1h-1zm2 0h1v1h-1zm5 0h1v1h-1zm3 0h1v1h-1zm2 0h1v1h-1zm-24 1h1v1h-1zm2 0h1v1h-1zm7 0h1v1h-1zm1 0h1v1h-1zm2 0h1v1h-1zm1 0h1v1h-1zm1 0h1v1h-1zm1 0h1v1h-1zm3 0h1v1h-1zm1 0h1v1h-1zm-12 1h1v1h-1zm10 0h1v1h-1zm2 0h1v1h-1zm-8 1h1v1h-1zm1 1h1v1h-1zm2 24h1v1h-1zm-8 2h1v1h-1zm6 2h1v1h-1zm14 1h1v1h-1zm-7 1h1v1h-1zm5 0h1v1h-1zm1 0h1v1h-1zm-14 1h1v1h-1zm8 1h1v1h-1zm1 0h1v1h-1zm-13 1h1v1h-1zm2 0h1v1h-1zm3 0h1v1h-1zm-5 1h1v1h-1zm2 0h1v1h-1zm-4 1h1v1h-1zm1 0h1v1h-1zm8 0h1v1h-1zm-10 1h1v1h-1zm1 0h1v1h-1zm1 0h1v1h-1zm4 0h1v1h-1zm3 0h1v1h-1zm3 0h1v1h-1zm3 0h1v1h-1zm-14 1h1v1h-1zm1 0h1v1h-1zm1 0h1v1h-1zm2 0h1v1h-1zm2 0h1v1h-1zm2 0h1v1h-1zm1 0h1v1h-1zm3 0h1v1h-1zm1 0h1v1h-1zm-15 1h1v1h-1zm2 0h1v1h-1zm2 0h1v1h-1zm2 0h1v1h-1zm7 0h1v1h-1zm-12 1h1v1h-1zm2 0h1v1h-1zm1 0h1v1h-1zm1 0h1v1h-1zm1 0h1v1h-1zm1 0h1v1h-1zm1 0h1v1h-1zm14 0h1v1h-1zm-21 1h1v1h-1zm3 0h1v1h-1zm2 0h1v1h-1zm3 0h1v1h-1zm5 0h1v1h-1zm3 0h1v1h-1zm7 0h1v1h-1zm-24 1h1v1h-1zm3 0h1v1h-1zm2 0h1v1h-1zm5 0h1v1h-1zm2 0h1v1h-1zm1 0h1v1h-1zm2 0h1v1h-1zm3 0h1v1h-1zm-18 1h1v1h-1zm2 0h1v1h-1zm1 0h1v1h-1zm1 0h1v1h-1zm4 0h1v1h-1zm2 0h1v1h-1zm3 0h1v1h-1zm2 0h1v1h-1zm-11 1h1v1h-1zm3 0h1v1h-1zm2 0h1v1h-1zm2 0h1v1h-1zm3 0h1v1h-1zm1 0h1v1h-1zm4 0h1v1h-1zm-15 1h1v1h-1zm2 0h1v1h-1zm2 0h1v1h-1zm1 0h1v1h-1zm1 0h1v1h-1zm2 0h1v1h-1zm9 0h1v1h-1zm-20 1h1v1h-1zm5 0h1v1h-1zm1 0h1v1h-1zm3 0h1v1h-1zm3 0h1v1h-1zm1 0h1v1h-1zm2 0h1v1h-1zm2 0h1v1h-1zm2 0h1v1h-1zm3 0h1v1h-1zm-15 1h1v1h-1zm1 0h1v1h-1zm1 0h1v1h-1zm3 0h1v1h-1zm2 0h1v1h-1zm6 0h1v1h-1zm-12 1h1v1h-1zm5 0h1v1h-1zm2 0h1v1h-1zm1 0h1v1h-1zm1 0h1v1h-1zm2 0h1v1h-1zm-19 1h1v1h-1zm5 0h1v1h-1zm1 0h1v1h-1zm3 0h1v1h-1zm4 0h1v1h-1zm5 0h1v1h-1zm3 0h1v1h-1zm-13 1h1v1h-1zm4 0h1v1h-1zm4 0h1v1h-1zm1 0h1v1h-1zm-13 1h1v1h-1zm9 0h1v1h-1zm2 0h1v1h-1zm5 0h1v1h-1zm1 0h1v1h-1zm-17 1h1v1h-1zm6 0h1v1h-1zm1 0h1v1h-1zm1 0h1v1h-1zm8 0h1v1h-1zm-21 1h1v1h-1zm4 0h1v1h-1zm5 0h1v1h-1zm6 0h1v1h-1zm2 0h1v1h-1zm2 0h1v1h-1zm5 0h1v1h-1zm-23 1h1v1h-1zm1 0h1v1h-1zm5 0h1v1h-1zm5 0h1v1h-1zm2 0h1v1h-1zm4 0h1v1h-1zm3 0h1v1h-1zm-16 2h1v1h-1zm1 0h1v1h-1zm11 0h1v1h-1zm-10 1h1v1h-1zm10 0h1v1h-1zm1 0h1v1h-1zm-4 1h1v1h-1zm4 0h1v1h-1zm-16 2h1v1h-1zm12 1h1v1h-1zm0 1h1v1h-1zm6 2h1v1h-1zm5 1h1v1h-1z" fill="#5a5a5a"/>
<path d="M0 0m480 28h1v1h-1zm-9 1h1v1h-1zm2 0h1v1h-1zm1 0h1v1h-1zm2 0h1v1h-1zm3 0h1v1h-1zm2 0h1v1h-1zm-14 1h1v1h-1zm4 0h1v1h-1zm1 0h1v1h-1zm2 0h1v1h-1zm-1 1h1v1h-1zm1 0h1v1h-1zm1 0h1v1h-1zm1 0h1v1h-1zm1 0h1v1h-1zm1 0h1v1h-1zm1 0h1v1h-1zm1 0h1v1h-1zm1 0h1v1h-1zm-10 1h1v1h-1zm2 0h1v1h-1zm1 0h1v1h-1zm1 0h1v1h-1zm1 0h1v1h-1zm1 0h1v1h-1zm1 0h1v1h-1zm1 0h1v1h-1zm1 0h1v1h-1zm2 0h1v1h-1zm-16 1h1v1h-1zm6 0h1v1h-1zm1 0h1v1h-1zm2 0h1v1h-1zm1 0h1v1h-1zm2 0h1v1h-1zm1 0h1v1h-1zm1 0h1v1h-1zm1 0h1v1h-1zm1 0h1v1h-1zm1 0h1v1h-1zm2 0h1v1h-1zm1 0h1v1h-1zm-15 1h1v1h-1zm1 0h1v1h-1zm2 0h1v1h-1zm2 0h1v1h-1zm3 0h1v1h-1zm1 0h1v1h-1zm1 0h1v1h-1zm6 0h1v1h-1zm-13 1h1v1h-1zm2 0h1v1h-1zm1 0h1v1h-1zm2 0h1v1h-1zm1 0h1v1h-1zm2 0h1v1h-1zm3 0h1v1h-1zm-4 1h1v1h-1zm3 1h1v1h-1zm-4 1h1v1h-1zm1 0h1v1h-1zm1 0h1v1h-1zm-3 1h1v1h-1zm2 0h1v1h-1zm3 0h1v1h-1zm-3 1h1v1h-1zm2 0h1v1h-1zm4 0h1v1h-1zm-12 1h1v1h-1zm5 0h1v1h-1zm3 0h1v1h-1zm-3 1h1v1h-1zm1 0h1v1h-1zm2 0h1v1h-1zm4 0h1v1h-1zm-9 1h1v1h-1zm3 0h1v1h-1zm2 0h1v1h-1zm1 0h1v1h-1zm3 0h1v1h-1zm1 0h1v1h-1zm-9 1h1v1h-1zm4 0h1v1h-1zm1 0h1v1h-1zm-9 1h1v1h-1zm6 0h1v1h-1zm5 0h1v1h-1zm1 0h1v1h-1zm-5 1h1v1h-1zm1 0h1v1h-1zm3 0h1v1h-1zm3 0h1v1h-1zm-10 1h1v1h-1zm5 0h1v1h-1zm1 0h1v1h-1zm-7 1h1v1h-1zm2 0h1v1h-1zm1 0h1v1h-1zm3 0h1v1h-1zm1 0h1v1h-1zm-7 1h1v1h-1zm3 0h1v1h-1zm1 0h1v1h-1zm3 0h1v1h-1zm-5 1h1v1h-1zm6 0h1v1h-1zm-9 1h1v1h-1zm6 0h1v1h-1zm3 0h1v1h-1zm1 0h1v1h-1zm-7 1h1v1h-1zm-1 1h1v1h-1zm8 1h1v1h-1zm-2 1h1v1h-1zm-9 1h1v1h-1zm5 2h1v1h-1zm1 0h1v1h-1zm3 0h1v1h-1zm2 0h1v1h-1zm-14 1h1v1h-1zm1 0h1v1h-1zm6 0h1v1h-1zm2 0h1v1h-1zm1 0h1v1h-1zm1 0h1v1h-1zm3 0h1v1h-1zm-16 1h1v1h-1zm5 0h1v1h-1zm3 0h1v1h-1zm1 0h1v1h-1zm3 0h1v1h-1zm2 0h1v1h-1zm-14 1h1v1h-1zm1 0h1v1h-1zm14 0h1v1h-1zm2 0h1v1h-1zm0 1h1v1h-1zm1 0h1v1h-1zm1 1h1v1h-1zm-25 1h1v1h-1zm26 0h1v1h-1zm-2 1h1v1h-1zm-25 1h1v1h-1zm1 0h1v1h-1zm25 0h1v1h-1zm0 1h1v1h-1zm-25 2h1v1h-1zm0 1h1v1h-1zm25 0h1v1h-1zm-25 1h1v1h-1zm0 1h1v1h-1zm-1 1h1v1h-1zm26 0h1v1h-1zm1 0h1v1h-1zm-27 1h1v1h-1zm1 0h1v1h-1zm1 1h1v1h-1zm23 0h1v1h-1zm2 0h1v1h-1zm-26 1h1v1h-1zm0 1h1v1h-1zm1 0h1v1h-1zm23 0h1v1h-1zm1 0h1v1h-1zm-24 1h1v1h-1zm19 0h1v1h-1zm4 0h1v1h-1zm1 0h1v1h-1zm-23 1h1v1h-1zm22 0h1v1h-1zm1 0h1v1h-1zm-22 1h1v1h-1zm1 0h1v1h-1zm1 0h1v1h-1zm7 0h1v1h-1zm6 0h1v1h-1zm7 0h1v1h-1zm-25 1h1v1h-1zm4 0h1v1h-1zm1 0h1v1h-1zm18 0h1v1h-1zm1 0h1v1h-1zm-17 1h1v1h-1zm1 0h1v1h-1zm5 0h1v1h-1zm2 0h1v1h-1zm4 0h1v1h-1zm1 0h1v1h-1zm4 0h1v1h-1zm1 0h1v1h-1zm-14 1h1v1h-1zm10 0h1v1h-1zm3 0h1v1h-1zm1 0h1v1h-1zm-12 1h1v1h-1zm9 0h1v1h-1zm4 0h1v1h-1zm-15 1h1v1h-1zm2 0h1v1h-1zm1 0h1v1h-1zm5 0h1v1h-1zm4 0h1v1h-1zm1 0h1v1h-1zm-11 1h1v1h-1zm1 0h1v1h-1zm1 0h1v1h-1zm2 0h1v1h-1zm3 0h1v1h-1zm2 0h1v1h-1zm2 0h1v1h-1zm1 0h1v1h-1zm-13 1h1v1h-1zm1 0h1v1h-1zm2 0h1v1h-1zm7 0h1v1h-1zm-8 1h1v1h-1zm1 0h1v1h-1zm1 0h1v1h-1zm1 0h1v1h-1zm1 0h1v1h-1zm2 0h1v1h-1zm3 0h1v1h-1zm2 0h1v1h-1zm-10 1h1v1h-1zm2 0h1v1h-1zm1 0h1v1h-1zm1 0h1v1h-1zm1 0h1v1h-1zm1 0h1v1h-1zm1 0h1v1h-1zm1 0h1v1h-1zm-7 1h1v1h-1zm3 0h1v1h-1zm1 0h1v1h-1zm3 0h1v1h-1zm1 0h1v1h-1zm-13 1h1v1h-1zm4 0h1v1h-1zm2 0h1v1h-1zm1 0h1v1h-1zm1 0h1v1h-1zm2 0h1v1h-1zm-2 1h1v1h-1zm1 0h1v1h-1zm1 0h1v1h-1zm1 0h1v1h-1zm1 0h1v1h-1zm-13 1h1v1h-1zm5 0h1v1h-1zm2 0h1v1h-1zm1 0h1v1h-1zm1 0h1v1h-1zm2 0h1v1h-1zm-1 1h1v1h-1zm2 0h1v1h-1zm-6 1h1v1h-1zm1 0h1v1h-1zm3 0h1v1h-1zm3 0h1v1h-1zm-8 1h1v1h-1zm1 0h1v1h-1zm2 0h1v1h-1zm1 0h1v1h-1zm3 0h1v1h-1zm1 0h1v1h-1zm1 0h1v1h-1zm-12 1h1v1h-1zm3 0h1v1h-1zm2 0h1v1h-1zm1 0h1v1h-1zm1 0h1v1h-1zm1 0h1v1h-1zm2 0h1v1h-1zm2 0h1v1h-1zm2 0h1v1h-1zm-10 1h1v1h-1zm1 0h1v1h-1zm1 0h1v1h-1zm2 0h1v1h-1zm1 0h1v1h-1zm-5 1h1v1h-1zm1 0h1v1h-1zm1 0h1v1h-1zm2 0h1v1h-1zm1 0h1v1h-1zm-6 1h1v1h-1zm2 1h1v1h-1zm-3 1h1v1h-1zm2 0h1v1h-1zm3 0h1v1h-1zm4 0h1v1h-1zm-3 1h1v1h-1zm5 0h1v1h-1zm-9 1h1v1h-1zm6 0h1v1h-1zm-3 1h1v1h-1z" fill="#1e1e1e"/>
<polygon points="466.5,62.0 469,60.8 473,61.5 477,60.5 481,61.0 485,60.8 489,62.5 490,66.0 490,72.0 489.5,78.0 488.5,84.0 487,88.0 485,91.0 483,90.0 481,87.0 479,84.0 476,82.5 472,81.0 468,79.5 466.3,76.0 466,70.0" fill="#0a0a0a"/>
<path d="M0 0m471 72h1v1h-1zm-5 1h1v1h-1zm5 2h1v1h-1zm-3 1h1v1h-1zm2 0h1v1h-1zm3 0h1v1h-1zm1 0h1v1h-1zm1 0h1v1h-1zm-5 1h1v1h-1zm1 0h1v1h-1zm1 0h1v1h-1zm-4 1h1v1h-1zm3 0h1v1h-1zm-3 1h1v1h-1zm2 0h1v1h-1zm1 0h1v1h-1zm3 0h1v1h-1zm3 0h1v1h-1zm1 0h1v1h-1zm-7 1h1v1h-1zm2 0h1v1h-1zm2 0h1v1h-1zm-1 1h1v1h-1z" fill="#fff" fill-opacity="0.85"/>
</g>
<polygon points="436.2,21.0 474.8,21.0 487.6,34.0 465.6,43.9 462,42.5 436.2,42.5" fill="none" stroke="#222" stroke-width="0.9" stroke-linejoin="round"/>
<polygon points="465.6,43.9 487.6,34.0 491.8,56.3 470.6,58.5 470.6,48.4" fill="none" stroke="#222" stroke-width="0.9" stroke-linejoin="round"/>
<polygon points="470.6,58.5 491.8,56.3 492.3,110.6 464.5,110.6 464.5,65.5" fill="none" stroke="#222" stroke-width="0.9" stroke-linejoin="round"/>
<text x="410.6" y="26.0" font-size="7.4" fill="#0a0a0a" stroke="#0a0a0a" stroke-width="0.18" textLength="51.5" lengthAdjust="spacingAndGlyphs">CD14<tspan font-size="5.6" font-weight="bold" dy="-0.4">+</tspan><tspan dy="0.4">CD16</tspan><tspan font-size="5.6" font-weight="bold" dy="-0.4">++</tspan></text>
<text x="408.9" y="54.9" font-size="7.4" fill="#0a0a0a" stroke="#0a0a0a" stroke-width="0.18" textLength="51" lengthAdjust="spacingAndGlyphs">CD14<tspan font-size="5.6" font-weight="bold" dy="-0.4">++</tspan><tspan dy="0.4">CD16</tspan><tspan font-size="5.6" font-weight="bold" dy="-0.4">+</tspan></text>
<text x="409.6" y="107.3" font-size="7.4" fill="#0a0a0a" stroke="#0a0a0a" stroke-width="0.18" textLength="49.5" lengthAdjust="spacingAndGlyphs">CD14<tspan font-size="5.6" font-weight="bold" dy="-0.4">++</tspan><tspan dy="0.4">CD16-</tspan></text>
<path d="M406.7,111.2v2.8M410.0,111.2v2.8M412.6,111.2v2.8M414.7,111.2v2.8M416.5,111.2v2.8M418.0,111.2v2.8M419.4,111.2v2.8M420.6,111.2v3.8M428.6,111.2v2.8M433.3,111.2v2.8M436.6,111.2v2.8M439.2,111.2v2.8M441.3,111.2v2.8M443.1,111.2v2.8M444.6,111.2v2.8M446.0,111.2v2.8M447.2,111.2v3.8M455.2,111.2v2.8M459.9,111.2v2.8M463.2,111.2v2.8M465.8,111.2v2.8M467.9,111.2v2.8M469.7,111.2v2.8M471.2,111.2v2.8M472.6,111.2v2.8M473.8,111.2v3.8M481.8,111.2v2.8M486.5,111.2v2.8M489.8,111.2v2.8M492.4,111.2v2.8M494.5,111.2v2.8M496.3,111.2v2.8M497.8,111.2v2.8M499.2,111.2v2.8M500.4,111.2v3.8M508.4,111.2v2.8M405.2,24.8h-3.8M405.2,17.5h-2.4M405.2,49.0h-3.8M405.2,41.7h-2.4M405.2,37.5h-2.4M405.2,34.4h-2.4M405.2,32.1h-2.4M405.2,30.2h-2.4M405.2,28.5h-2.4M405.2,27.1h-2.4M405.2,25.9h-2.4M405.2,73.3h-3.8M405.2,66.0h-2.4M405.2,61.7h-2.4M405.2,58.7h-2.4M405.2,56.3h-2.4M405.2,54.4h-2.4M405.2,52.8h-2.4M405.2,51.4h-2.4M405.2,50.1h-2.4M405.2,97.5h-3.8M405.2,90.2h-2.4M405.2,86.0h-2.4M405.2,82.9h-2.4M405.2,80.6h-2.4M405.2,78.7h-2.4M405.2,77.0h-2.4M405.2,75.6h-2.4M405.2,74.4h-2.4M405.2,110.2h-2.4M405.2,107.1h-2.4M405.2,104.8h-2.4M405.2,102.9h-2.4M405.2,101.2h-2.4M405.2,99.8h-2.4M405.2,98.6h-2.4" stroke="#1a1a1a" stroke-width="0.85"/>
<text x="418.7" y="123.4" font-size="5.6" text-anchor="middle" fill="#000" letter-spacing="-0.25">10</text>
<text x="421.6" y="119.4" font-size="5.4" fill="#000">2</text>
<text x="445.3" y="123.4" font-size="5.6" text-anchor="middle" fill="#000" letter-spacing="-0.25">10</text>
<text x="448.2" y="119.4" font-size="5.4" fill="#000">3</text>
<text x="471.9" y="123.4" font-size="5.6" text-anchor="middle" fill="#000" letter-spacing="-0.25">10</text>
<text x="474.8" y="119.4" font-size="5.4" fill="#000">4</text>
<text x="498.5" y="123.4" font-size="5.6" text-anchor="middle" fill="#000" letter-spacing="-0.25">10</text>
<text x="501.4" y="119.4" font-size="5.4" fill="#000">5</text>
<text transform="translate(398.9,25.2) rotate(-90)" font-size="5.9" text-anchor="middle" fill="#000" letter-spacing="-0.3">10</text>
<text transform="translate(395.0,22.2) rotate(-90)" font-size="5.4" fill="#000">5</text>
<text transform="translate(398.9,49.4) rotate(-90)" font-size="5.9" text-anchor="middle" fill="#000" letter-spacing="-0.3">10</text>
<text transform="translate(395.0,46.4) rotate(-90)" font-size="5.4" fill="#000">4</text>
<text transform="translate(398.9,73.7) rotate(-90)" font-size="5.9" text-anchor="middle" fill="#000" letter-spacing="-0.3">10</text>
<text transform="translate(395.0,70.7) rotate(-90)" font-size="5.4" fill="#000">3</text>
<text transform="translate(398.9,97.9) rotate(-90)" font-size="5.9" text-anchor="middle" fill="#000" letter-spacing="-0.3">10</text>
<text transform="translate(395.0,94.9) rotate(-90)" font-size="5.4" fill="#000">2</text>
<text x="458.4" y="132.9" font-size="7.4" text-anchor="middle" fill="#111" stroke="#111" stroke-width="0.18" textLength="45.5" lengthAdjust="spacingAndGlyphs">CD14 FITC-A</text>
<text transform="translate(389.4,62.5) rotate(-90)" font-size="7.5" text-anchor="middle" fill="#111" stroke="#111" stroke-width="0.18" textLength="37.8" lengthAdjust="spacingAndGlyphs">CD16 PE-A</text>
<rect x="405.2" y="151.8" width="106.2" height="96.8" fill="none" stroke="#333" stroke-width="0.9"/>
<text x="346.4" y="151.3" font-size="11.3" fill="#111" stroke="#111" stroke-width="0.3" textLength="28.8" lengthAdjust="spacingAndGlyphs">day 7</text>
<g filter="url(#bl)">
<path d="M0 0m470 159h1v1h-1zm4 2h1v1h-1zm-13 4h1v1h-1zm-15 1h1v1h-1zm22 0h1v1h-1zm-21 1h1v1h-1zm22 0h1v1h-1zm-10 1h1v1h-1zm8 0h1v1h-1zm17 1h1v1h-1zm-21 1h1v1h-1zm1 0h1v1h-1zm10 0h1v1h-1zm3 0h1v1h-1zm-15 1h1v1h-1zm10 0h1v1h-1zm3 0h1v1h-1zm-6 1h1v1h-1zm11 2h1v1h-1zm-41 1h1v1h-1zm43 0h1v1h-1zm-27 1h1v1h-1zm29 0h1v1h-1zm-7 1h1v1h-1zm9 0h1v1h-1zm-15 1h1v1h-1zm2 0h1v1h-1zm1 0h1v1h-1zm1 0h1v1h-1zm2 0h1v1h-1zm-24 1h1v1h-1zm17 0h1v1h-1zm2 0h1v1h-1zm14 0h1v1h-1zm-8 1h1v1h-1zm7 0h1v1h-1zm-40 1h1v1h-1zm30 0h1v1h-1zm-6 1h1v1h-1zm5 0h1v1h-1zm6 0h1v1h-1zm1 0h1v1h-1zm-9 1h1v1h-1zm5 0h1v1h-1zm-34 1h1v1h-1zm28 0h1v1h-1zm8 0h1v1h-1zm2 0h1v1h-1zm1 0h1v1h-1zm1 0h1v1h-1zm2 0h1v1h-1zm-12 1h1v1h-1zm4 0h1v1h-1zm1 0h1v1h-1zm2 0h1v1h-1zm-3 1h1v1h-1zm2 0h1v1h-1zm1 0h1v1h-1zm0 1h1v1h-1zm1 0h1v1h-1zm-11 1h1v1h-1zm6 0h1v1h-1zm8 0h1v1h-1zm-13 1h1v1h-1zm12 0h1v1h-1zm-7 1h1v1h-1zm10 0h1v1h-1zm-8 1h1v1h-1zm-6 1h1v1h-1zm3 0h1v1h-1zm3 0h1v1h-1zm-6 6h1v1h-1zm-1 1h1v1h-1zm-5 5h1v1h-1zm2 0h1v1h-1zm5 2h1v1h-1zm1 0h1v1h-1zm-8 1h1v1h-1zm2 0h1v1h-1zm3 0h1v1h-1zm-5 1h1v1h-1zm16 1h1v1h-1zm-12 1h1v1h-1zm5 0h1v1h-1zm2 0h1v1h-1zm1 0h1v1h-1zm-11 1h1v1h-1zm1 0h1v1h-1zm-3 1h1v1h-1zm5 0h1v1h-1zm2 0h1v1h-1zm-7 1h1v1h-1zm1 0h1v1h-1zm2 0h1v1h-1zm2 0h1v1h-1zm3 0h1v1h-1zm6 0h1v1h-1zm-12 1h1v1h-1zm3 0h1v1h-1zm2 0h1v1h-1zm1 0h1v1h-1zm-8 1h1v1h-1zm4 0h1v1h-1zm4 0h1v1h-1zm6 0h1v1h-1zm-15 1h1v1h-1zm5 0h1v1h-1zm2 0h1v1h-1zm1 0h1v1h-1zm1 0h1v1h-1zm-8 1h1v1h-1zm1 0h1v1h-1zm3 0h1v1h-1zm3 0h1v1h-1zm3 0h1v1h-1zm1 0h1v1h-1zm4 0h1v1h-1zm-13 1h1v1h-1zm1 0h1v1h-1zm1 0h1v1h-1zm1 0h1v1h-1zm2 0h1v1h-1zm1 0h1v1h-1zm1 0h1v1h-1zm-9 1h1v1h-1zm2 0h1v1h-1zm1 0h1v1h-1zm1 0h1v1h-1zm1 0h1v1h-1zm2 0h1v1h-1zm4 0h1v1h-1zm-12 1h1v1h-1zm3 0h1v1h-1zm4 0h1v1h-1zm1 0h1v1h-1zm1 0h1v1h-1zm2 0h1v1h-1zm1 0h1v1h-1zm-9 1h1v1h-1zm4 0h1v1h-1zm2 0h1v1h-1zm2 0h1v1h-1zm2 0h1v1h-1zm2 0h1v1h-1zm-14 1h1v1h-1zm3 0h1v1h-1zm3 0h1v1h-1zm5 0h1v1h-1zm2 0h1v1h-1zm4 0h1v1h-1zm-17 1h1v1h-1zm2 0h1v1h-1zm2 0h1v1h-1zm2 0h1v1h-1zm1 0h1v1h-1zm1 0h1v1h-1zm2 0h1v1h-1zm5 0h1v1h-1zm-13 1h1v1h-1zm1 0h1v1h-1zm2 0h1v1h-1zm2 0h1v1h-1zm1 0h1v1h-1zm2 0h1v1h-1zm3 0h1v1h-1zm3 0h1v1h-1zm-15 1h1v1h-1zm1 0h1v1h-1zm1 0h1v1h-1zm1 0h1v1h-1zm1 0h1v1h-1zm1 0h1v1h-1zm1 0h1v1h-1zm3 0h1v1h-1zm2 0h1v1h-1zm1 0h1v1h-1zm-14 1h1v1h-1zm1 0h1v1h-1zm3 0h1v1h-1zm1 0h1v1h-1zm2 0h1v1h-1zm1 0h1v1h-1zm1 0h1v1h-1zm6 0h1v1h-1zm1 0h1v1h-1zm-14 1h1v1h-1zm1 0h1v1h-1zm2 0h1v1h-1zm2 0h1v1h-1zm4 0h1v1h-1zm1 0h1v1h-1zm2 0h1v1h-1zm-14 1h1v1h-1zm1 0h1v1h-1zm1 0h1v1h-1zm1 0h1v1h-1zm1 0h1v1h-1zm1 0h1v1h-1zm7 0h1v1h-1zm1 0h1v1h-1zm1 0h1v1h-1zm-12 1h1v1h-1zm1 0h1v1h-1zm1 0h1v1h-1zm1 0h1v1h-1zm2 0h1v1h-1zm1 0h1v1h-1zm1 0h1v1h-1zm1 0h1v1h-1zm3 0h1v1h-1zm1 0h1v1h-1zm3 0h1v1h-1zm1 0h1v1h-1zm-16 1h1v1h-1zm1 0h1v1h-1zm-2 1h1v1h-1zm1 0h1v1h-1zm1 0h1v1h-1zm1 0h1v1h-1zm2 0h1v1h-1zm1 0h1v1h-1zm1 0h1v1h-1zm1 0h1v1h-1zm1 0h1v1h-1zm3 0h1v1h-1zm-11 1h1v1h-1zm6 0h1v1h-1zm1 0h1v1h-1zm6 0h1v1h-1zm-12 1h1v1h-1zm2 0h1v1h-1zm2 0h1v1h-1zm3 0h1v1h-1zm3 0h1v1h-1zm4 0h1v1h-1zm-15 1h1v1h-1zm1 0h1v1h-1zm1 0h1v1h-1zm1 0h1v1h-1zm2 0h1v1h-1zm2 0h1v1h-1zm1 0h1v1h-1zm1 0h1v1h-1zm-11 1h1v1h-1zm1 0h1v1h-1zm1 0h1v1h-1zm2 0h1v1h-1zm4 0h1v1h-1zm1 0h1v1h-1zm1 0h1v1h-1zm1 0h1v1h-1zm1 0h1v1h-1zm1 0h1v1h-1zm1 0h1v1h-1zm-8 1h1v1h-1zm4 0h1v1h-1zm-9 1h1v1h-1zm5 0h1v1h-1zm3 0h1v1h-1zm2 0h1v1h-1zm-8 1h1v1h-1zm4 0h1v1h-1zm2 0h1v1h-1zm1 0h1v1h-1zm1 0h1v1h-1zm2 0h1v1h-1zm1 0h1v1h-1zm-13 1h1v1h-1zm9 0h1v1h-1zm1 0h1v1h-1zm3 0h1v1h-1zm-10 1h1v1h-1zm1 0h1v1h-1zm12 0h1v1h-1zm-17 1h1v1h-1zm2 0h1v1h-1zm2 0h1v1h-1zm1 0h1v1h-1zm3 0h1v1h-1zm1 0h1v1h-1zm-1 1h1v1h-1zm1 0h1v1h-1zm1 0h1v1h-1zm-9 1h1v1h-1zm6 0h1v1h-1zm1 0h1v1h-1zm-7 1h1v1h-1zm2 0h1v1h-1zm7 0h1v1h-1zm5 0h1v1h-1zm-12 1h1v1h-1zm4 0h1v1h-1zm2 0h1v1h-1z" fill="#9a9a9a"/>
<path d="M0 0m481 174h1v1h-1zm-1 3h1v1h-1zm5 0h1v1h-1zm-4 1h1v1h-1zm1 0h1v1h-1zm1 0h1v1h-1zm-2 1h1v1h-1zm3 0h1v1h-1zm4 0h1v1h-1zm-8 1h1v1h-1zm-8 1h1v1h-1zm2 1h1v1h-1zm3 0h1v1h-1zm7 0h1v1h-1zm-12 1h1v1h-1zm9 0h1v1h-1zm4 0h1v1h-1zm-8 1h1v1h-1zm11 0h1v1h-1zm-8 2h1v1h-1zm-4 1h1v1h-1zm9 0h1v1h-1zm-3 1h1v1h-1zm2 3h1v1h-1zm6 0h1v1h-1zm-6 1h1v1h-1zm-8 1h1v1h-1zm3 8h1v1h-1zm-5 2h1v1h-1zm-2 1h1v1h-1zm8 0h1v1h-1zm-13 1h1v1h-1zm1 0h1v1h-1zm1 0h1v1h-1zm3 0h1v1h-1zm-7 1h1v1h-1zm3 0h1v1h-1zm1 0h1v1h-1zm1 0h1v1h-1zm1 0h1v1h-1zm-3 1h1v1h-1zm4 0h1v1h-1zm1 0h1v1h-1zm-4 1h1v1h-1zm1 0h1v1h-1zm1 0h1v1h-1zm-1 1h1v1h-1zm1 0h1v1h-1zm5 0h1v1h-1zm5 0h1v1h-1zm2 0h1v1h-1zm-18 1h1v1h-1zm1 0h1v1h-1zm1 0h1v1h-1zm1 0h1v1h-1zm1 0h1v1h-1zm5 0h1v1h-1zm8 0h1v1h-1zm1 0h1v1h-1zm5 0h1v1h-1zm-24 1h1v1h-1zm4 0h1v1h-1zm2 0h1v1h-1zm2 0h1v1h-1zm3 0h1v1h-1zm15 0h1v1h-1zm-26 1h1v1h-1zm1 0h1v1h-1zm3 0h1v1h-1zm1 0h1v1h-1zm1 0h1v1h-1zm3 0h1v1h-1zm4 0h1v1h-1zm3 0h1v1h-1zm-14 1h1v1h-1zm3 0h1v1h-1zm1 0h1v1h-1zm11 0h1v1h-1zm-12 1h1v1h-1zm1 0h1v1h-1zm1 0h1v1h-1zm19 0h1v1h-1zm-22 1h1v1h-1zm2 0h1v1h-1zm1 0h1v1h-1zm2 0h1v1h-1zm5 0h1v1h-1zm1 0h1v1h-1zm10 0h1v1h-1zm2 0h1v1h-1zm-25 1h1v1h-1zm2 0h1v1h-1zm1 0h1v1h-1zm2 0h1v1h-1zm2 0h1v1h-1zm1 0h1v1h-1zm1 0h1v1h-1zm1 0h1v1h-1zm1 0h1v1h-1zm2 0h1v1h-1zm8 0h1v1h-1zm-9 1h1v1h-1zm7 0h1v1h-1zm3 0h1v1h-1zm-21 1h1v1h-1zm4 0h1v1h-1zm4 0h1v1h-1zm3 0h1v1h-1zm7 0h1v1h-1zm1 0h1v1h-1zm5 0h1v1h-1zm-20 1h1v1h-1zm6 0h1v1h-1zm2 0h1v1h-1zm5 0h1v1h-1zm2 0h1v1h-1zm1 0h1v1h-1zm-22 1h1v1h-1zm13 0h1v1h-1zm3 0h1v1h-1zm3 0h1v1h-1zm-13 1h1v1h-1zm5 0h1v1h-1zm1 0h1v1h-1zm2 0h1v1h-1zm5 0h1v1h-1zm4 0h1v1h-1zm1 0h1v1h-1zm-19 1h1v1h-1zm2 0h1v1h-1zm2 0h1v1h-1zm6 0h1v1h-1zm2 0h1v1h-1zm1 0h1v1h-1zm3 0h1v1h-1zm-20 1h1v1h-1zm1 0h1v1h-1zm3 0h1v1h-1zm2 0h1v1h-1zm4 0h1v1h-1zm6 0h1v1h-1zm1 0h1v1h-1zm-11 1h1v1h-1zm3 0h1v1h-1zm1 0h1v1h-1zm2 0h1v1h-1zm0 1h1v1h-1zm1 0h1v1h-1zm1 0h1v1h-1zm1 0h1v1h-1zm-11 1h1v1h-1zm2 0h1v1h-1zm2 0h1v1h-1zm4 0h1v1h-1zm1 0h1v1h-1zm1 0h1v1h-1zm-13 1h1v1h-1zm6 0h1v1h-1zm1 0h1v1h-1zm2 0h1v1h-1zm1 0h1v1h-1zm5 0h1v1h-1zm1 0h1v1h-1zm-18 1h1v1h-1zm8 0h1v1h-1zm10 0h1v1h-1zm2 0h1v1h-1zm-16 1h1v1h-1zm14 0h1v1h-1zm1 1h1v1h-1zm-8 1h1v1h-1zm1 0h1v1h-1zm4 0h1v1h-1zm-7 1h1v1h-1zm4 0h1v1h-1zm1 1h1v1h-1zm1 0h1v1h-1zm2 0h1v1h-1zm-9 1h1v1h-1zm7 2h1v1h-1zm8 1h1v1h-1z" fill="#5a5a5a"/>
<path d="M0 0m478 195h1v1h-1zm-5 1h1v1h-1zm1 0h1v1h-1zm1 0h1v1h-1zm1 0h1v1h-1zm1 0h1v1h-1zm1 0h1v1h-1zm7 0h1v1h-1zm-16 1h1v1h-1zm1 0h1v1h-1zm1 0h1v1h-1zm1 0h1v1h-1zm1 0h1v1h-1zm2 0h1v1h-1zm3 0h1v1h-1zm1 0h1v1h-1zm1 0h1v1h-1zm3 0h1v1h-1zm1 0h1v1h-1zm2 0h1v1h-1zm1 0h1v1h-1zm-15 1h1v1h-1zm1 0h1v1h-1zm9 0h1v1h-1zm3 0h1v1h-1zm1 0h1v1h-1zm1 0h1v1h-1zm1 0h1v1h-1zm-1 2h1v1h-1zm1 0h1v1h-1zm-1 1h1v1h-1zm2 2h1v1h-1zm-24 1h1v1h-1zm24 0h1v1h-1zm1 0h1v1h-1zm-25 2h1v1h-1zm23 0h1v1h-1zm-23 1h1v1h-1zm23 0h1v1h-1zm-24 1h1v1h-1zm1 0h1v1h-1zm23 0h1v1h-1zm0 1h1v1h-1zm1 0h1v1h-1zm-24 1h1v1h-1zm24 0h1v1h-1zm-25 1h1v1h-1zm24 0h1v1h-1zm1 0h1v1h-1zm-23 1h1v1h-1zm3 0h1v1h-1zm3 0h1v1h-1zm-5 1h1v1h-1zm2 0h1v1h-1zm3 0h1v1h-1zm1 0h1v1h-1zm11 0h1v1h-1zm1 0h1v1h-1zm4 0h1v1h-1zm-18 1h1v1h-1zm1 0h1v1h-1zm1 0h1v1h-1zm1 0h1v1h-1zm14 0h1v1h-1zm1 0h1v1h-1zm1 0h1v1h-1zm-19 1h1v1h-1zm3 0h1v1h-1zm2 0h1v1h-1zm11 0h1v1h-1zm1 0h1v1h-1zm-13 1h1v1h-1zm2 0h1v1h-1zm10 0h1v1h-1zm2 0h1v1h-1zm-12 1h1v1h-1zm1 0h1v1h-1zm9 0h1v1h-1zm-9 1h1v1h-1zm7 0h1v1h-1zm3 0h1v1h-1zm-12 1h1v1h-1zm1 0h1v1h-1zm6 0h1v1h-1zm3 0h1v1h-1zm1 0h1v1h-1zm-10 1h1v1h-1zm2 0h1v1h-1zm1 0h1v1h-1zm5 0h1v1h-1zm-10 1h1v1h-1zm6 0h1v1h-1zm1 0h1v1h-1zm1 0h1v1h-1zm1 0h1v1h-1zm2 0h1v1h-1zm2 0h1v1h-1zm-12 1h1v1h-1zm5 0h1v1h-1zm1 0h1v1h-1zm1 0h1v1h-1zm3 0h1v1h-1zm-7 1h1v1h-1zm3 0h1v1h-1zm3 0h1v1h-1zm1 0h1v1h-1zm-7 1h1v1h-1zm1 0h1v1h-1zm6 0h1v1h-1zm1 0h1v1h-1zm3 0h1v1h-1zm-11 1h1v1h-1zm2 0h1v1h-1zm4 0h1v1h-1zm-11 1h1v1h-1zm6 0h1v1h-1zm1 0h1v1h-1zm2 0h1v1h-1zm1 0h1v1h-1zm3 0h1v1h-1zm-10 1h1v1h-1zm2 0h1v1h-1zm1 0h1v1h-1zm1 0h1v1h-1zm1 0h1v1h-1zm-3 1h1v1h-1zm1 0h1v1h-1zm1 0h1v1h-1zm1 0h1v1h-1zm1 0h1v1h-1zm2 0h1v1h-1zm1 0h1v1h-1zm3 0h1v1h-1zm-8 1h1v1h-1zm8 0h1v1h-1zm-9 1h1v1h-1zm1 0h1v1h-1zm2 0h1v1h-1zm4 0h1v1h-1zm-9 1h1v1h-1zm2 0h1v1h-1zm2 0h1v1h-1zm4 0h1v1h-1zm-13 1h1v1h-1zm4 0h1v1h-1zm2 0h1v1h-1zm4 0h1v1h-1zm4 1h1v1h-1zm-7 1h1v1h-1zm2 0h1v1h-1zm1 0h1v1h-1zm2 0h1v1h-1zm1 0h1v1h-1zm-10 1h1v1h-1zm4 0h1v1h-1zm3 0h1v1h-1zm-2 1h1v1h-1zm4 0h1v1h-1zm-3 1h1v1h-1zm1 0h1v1h-1zm-6 1h1v1h-1zm2 1h1v1h-1zm5 0h1v1h-1zm-2 1h1v1h-1zm4 0h1v1h-1z" fill="#1e1e1e"/>
<polygon points="466.3,199.4 469,198.0 473,198.4 477,197.7 481,198.2 485,198.0 487.3,199.4 488.3,203.4 488.3,209.4 488,214.4 487,217.9 485,220.9 483,222.4 481,220.4 479,217.4 476,214.4 472,212.9 468,212.4 466,210.4 465.8,205.4" fill="#0a0a0a"/>
<path d="M0 0m468 206h1v1h-1zm-1 2h1v1h-1zm2 1h1v1h-1zm3 0h1v1h-1zm-2 1h1v1h-1zm5 0h1v1h-1zm-6 1h1v1h-1zm1 0h1v1h-1zm1 0h1v1h-1zm-3 1h1v1h-1zm3 0h1v1h-1zm1 0h1v1h-1zm2 0h1v1h-1zm2 2h1v1h-1z" fill="#fff" fill-opacity="0.85"/>
</g>
<polygon points="436.2,158.4 474.8,158.4 487.6,171.4 465.6,181.3 462,179.9 436.2,179.9" fill="none" stroke="#222" stroke-width="0.9" stroke-linejoin="round"/>
<polygon points="465.6,181.3 487.6,171.4 491.8,193.7 470.6,195.9 470.6,185.8" fill="none" stroke="#222" stroke-width="0.9" stroke-linejoin="round"/>
<polygon points="470.6,195.9 491.8,193.7 492.3,248.0 464.5,248.0 464.5,202.9" fill="none" stroke="#222" stroke-width="0.9" stroke-linejoin="round"/>
<text x="410.6" y="163.4" font-size="7.4" fill="#0a0a0a" stroke="#0a0a0a" stroke-width="0.18" textLength="51.5" lengthAdjust="spacingAndGlyphs">CD14<tspan font-size="5.6" font-weight="bold" dy="-0.4">+</tspan><tspan dy="0.4">CD16</tspan><tspan font-size="5.6" font-weight="bold" dy="-0.4">++</tspan></text>
<text x="408.9" y="192.3" font-size="7.4" fill="#0a0a0a" stroke="#0a0a0a" stroke-width="0.18" textLength="51" lengthAdjust="spacingAndGlyphs">CD14<tspan font-size="5.6" font-weight="bold" dy="-0.4">++</tspan><tspan dy="0.4">CD16</tspan><tspan font-size="5.6" font-weight="bold" dy="-0.4">+</tspan></text>
<text x="409.6" y="244.7" font-size="7.4" fill="#0a0a0a" stroke="#0a0a0a" stroke-width="0.18" textLength="49.5" lengthAdjust="spacingAndGlyphs">CD14<tspan font-size="5.6" font-weight="bold" dy="-0.4">++</tspan><tspan dy="0.4">CD16-</tspan></text>
<path d="M406.7,248.6v2.8M410.0,248.6v2.8M412.6,248.6v2.8M414.7,248.6v2.8M416.5,248.6v2.8M418.0,248.6v2.8M419.4,248.6v2.8M420.6,248.6v3.8M428.6,248.6v2.8M433.3,248.6v2.8M436.6,248.6v2.8M439.2,248.6v2.8M441.3,248.6v2.8M443.1,248.6v2.8M444.6,248.6v2.8M446.0,248.6v2.8M447.2,248.6v3.8M455.2,248.6v2.8M459.9,248.6v2.8M463.2,248.6v2.8M465.8,248.6v2.8M467.9,248.6v2.8M469.7,248.6v2.8M471.2,248.6v2.8M472.6,248.6v2.8M473.8,248.6v3.8M481.8,248.6v2.8M486.5,248.6v2.8M489.8,248.6v2.8M492.4,248.6v2.8M494.5,248.6v2.8M496.3,248.6v2.8M497.8,248.6v2.8M499.2,248.6v2.8M500.4,248.6v3.8M508.4,248.6v2.8M405.2,162.2h-3.8M405.2,154.9h-2.4M405.2,186.4h-3.8M405.2,179.1h-2.4M405.2,174.9h-2.4M405.2,171.8h-2.4M405.2,169.5h-2.4M405.2,167.6h-2.4M405.2,165.9h-2.4M405.2,164.5h-2.4M405.2,163.3h-2.4M405.2,210.7h-3.8M405.2,203.4h-2.4M405.2,199.1h-2.4M405.2,196.1h-2.4M405.2,193.7h-2.4M405.2,191.8h-2.4M405.2,190.2h-2.4M405.2,188.8h-2.4M405.2,187.5h-2.4M405.2,234.9h-3.8M405.2,227.6h-2.4M405.2,223.4h-2.4M405.2,220.3h-2.4M405.2,218.0h-2.4M405.2,216.1h-2.4M405.2,214.4h-2.4M405.2,213.0h-2.4M405.2,211.8h-2.4M405.2,247.6h-2.4M405.2,244.5h-2.4M405.2,242.2h-2.4M405.2,240.3h-2.4M405.2,238.6h-2.4M405.2,237.2h-2.4M405.2,236.0h-2.4" stroke="#1a1a1a" stroke-width="0.85"/>
<text x="418.7" y="260.8" font-size="5.6" text-anchor="middle" fill="#000" letter-spacing="-0.25">10</text>
<text x="421.6" y="256.8" font-size="5.4" fill="#000">2</text>
<text x="445.3" y="260.8" font-size="5.6" text-anchor="middle" fill="#000" letter-spacing="-0.25">10</text>
<text x="448.2" y="256.8" font-size="5.4" fill="#000">3</text>
<text x="471.9" y="260.8" font-size="5.6" text-anchor="middle" fill="#000" letter-spacing="-0.25">10</text>
<text x="474.8" y="256.8" font-size="5.4" fill="#000">4</text>
<text x="498.5" y="260.8" font-size="5.6" text-anchor="middle" fill="#000" letter-spacing="-0.25">10</text>
<text x="501.4" y="256.8" font-size="5.4" fill="#000">5</text>
<text transform="translate(398.9,162.6) rotate(-90)" font-size="5.9" text-anchor="middle" fill="#000" letter-spacing="-0.3">10</text>
<text transform="translate(395.0,159.6) rotate(-90)" font-size="5.4" fill="#000">5</text>
<text transform="translate(398.9,186.8) rotate(-90)" font-size="5.9" text-anchor="middle" fill="#000" letter-spacing="-0.3">10</text>
<text transform="translate(395.0,183.8) rotate(-90)" font-size="5.4" fill="#000">4</text>
<text transform="translate(398.9,211.1) rotate(-90)" font-size="5.9" text-anchor="middle" fill="#000" letter-spacing="-0.3">10</text>
<text transform="translate(395.0,208.1) rotate(-90)" font-size="5.4" fill="#000">3</text>
<text transform="translate(398.9,235.3) rotate(-90)" font-size="5.9" text-anchor="middle" fill="#000" letter-spacing="-0.3">10</text>
<text transform="translate(395.0,232.3) rotate(-90)" font-size="5.4" fill="#000">2</text>
<text x="458.4" y="270.3" font-size="7.4" text-anchor="middle" fill="#111" stroke="#111" stroke-width="0.18" textLength="45.5" lengthAdjust="spacingAndGlyphs">CD14 FITC-A</text>
<text transform="translate(389.4,199.9) rotate(-90)" font-size="7.5" text-anchor="middle" fill="#111" stroke="#111" stroke-width="0.18" textLength="37.8" lengthAdjust="spacingAndGlyphs">CD16 PE-A</text>
<rect x="405.2" y="289.3" width="106.2" height="96.8" fill="none" stroke="#333" stroke-width="0.9"/>
<text x="337.6" y="285.4" font-size="11.3" fill="#111" stroke="#111" stroke-width="0.3" textLength="37.0" lengthAdjust="spacingAndGlyphs">day 14</text>
<g filter="url(#bl)">
<path d="M0 0m473 296h1v1h-1zm-3 2h1v1h-1zm-20 1h1v1h-1zm15 0h1v1h-1zm-39 1h1v1h-1zm54 2h1v1h-1zm-15 1h1v1h-1zm9 1h1v1h-1zm3 0h1v1h-1zm-2 1h1v1h-1zm1 0h1v1h-1zm1 0h1v1h-1zm6 0h1v1h-1zm-41 1h1v1h-1zm28 0h1v1h-1zm7 0h1v1h-1zm7 0h1v1h-1zm-25 1h1v1h-1zm17 0h1v1h-1zm-48 1h1v1h-1zm51 0h1v1h-1zm1 0h1v1h-1zm-7 1h1v1h-1zm4 0h1v1h-1zm-12 1h1v1h-1zm11 0h1v1h-1zm-7 1h1v1h-1zm1 1h1v1h-1zm6 0h1v1h-1zm2 1h1v1h-1zm8 0h1v1h-1zm-10 1h1v1h-1zm3 0h1v1h-1zm6 0h1v1h-1zm2 0h1v1h-1zm-15 1h1v1h-1zm7 0h1v1h-1zm5 0h1v1h-1zm-11 1h1v1h-1zm0 1h1v1h-1zm4 0h1v1h-1zm3 0h1v1h-1zm-13 1h1v1h-1zm1 0h1v1h-1zm10 0h1v1h-1zm3 0h1v1h-1zm2 0h1v1h-1zm2 0h1v1h-1zm-60 1h1v1h-1zm53 0h1v1h-1zm0 1h1v1h-1zm-10 1h1v1h-1zm13 0h1v1h-1zm6 0h1v1h-1zm-14 1h1v1h-1zm6 0h1v1h-1zm1 0h1v1h-1zm2 0h1v1h-1zm7 0h1v1h-1zm-17 1h1v1h-1zm6 0h1v1h-1zm3 0h1v1h-1zm1 0h1v1h-1zm-11 1h1v1h-1zm1 0h1v1h-1zm3 0h1v1h-1zm8 0h1v1h-1zm-5 1h1v1h-1zm6 0h1v1h-1zm-11 1h1v1h-1zm1 0h1v1h-1zm1 0h1v1h-1zm4 0h1v1h-1zm1 0h1v1h-1zm4 0h1v1h-1zm-12 1h1v1h-1zm4 0h1v1h-1zm7 0h1v1h-1zm-6 1h1v1h-1zm-5 1h1v1h-1zm5 0h1v1h-1zm8 0h1v1h-1zm-7 1h1v1h-1zm8 0h1v1h-1zm-3 1h1v1h-1zm-15 10h1v1h-1zm2 6h1v1h-1zm5 3h1v1h-1zm-4 1h1v1h-1zm1 0h1v1h-1zm5 1h1v1h-1zm2 0h1v1h-1zm-10 1h1v1h-1zm8 1h1v1h-1zm-10 1h1v1h-1zm5 0h1v1h-1zm2 0h1v1h-1zm2 0h1v1h-1zm-10 1h1v1h-1zm1 0h1v1h-1zm3 0h1v1h-1zm1 0h1v1h-1zm1 0h1v1h-1zm9 0h1v1h-1zm-16 1h1v1h-1zm3 0h1v1h-1zm3 0h1v1h-1zm1 0h1v1h-1zm1 0h1v1h-1zm5 0h1v1h-1zm-9 1h1v1h-1zm4 0h1v1h-1zm2 0h1v1h-1zm-7 1h1v1h-1zm1 0h1v1h-1zm2 0h1v1h-1zm1 0h1v1h-1zm1 0h1v1h-1zm1 0h1v1h-1zm1 0h1v1h-1zm1 0h1v1h-1zm-5 1h1v1h-1zm1 0h1v1h-1zm1 0h1v1h-1zm3 0h1v1h-1zm-10 1h1v1h-1zm1 0h1v1h-1zm2 0h1v1h-1zm2 0h1v1h-1zm1 0h1v1h-1zm1 0h1v1h-1zm6 0h1v1h-1zm-14 1h1v1h-1zm1 0h1v1h-1zm5 0h1v1h-1zm4 0h1v1h-1zm1 0h1v1h-1zm3 0h1v1h-1zm-14 1h1v1h-1zm1 0h1v1h-1zm1 0h1v1h-1zm2 0h1v1h-1zm2 0h1v1h-1zm2 0h1v1h-1zm2 0h1v1h-1zm-11 1h1v1h-1zm4 0h1v1h-1zm7 0h1v1h-1zm1 0h1v1h-1zm-11 1h1v1h-1zm1 0h1v1h-1zm1 0h1v1h-1zm1 0h1v1h-1zm1 0h1v1h-1zm1 0h1v1h-1zm2 0h1v1h-1zm1 0h1v1h-1zm1 0h1v1h-1zm1 0h1v1h-1zm2 0h1v1h-1zm-13 1h1v1h-1zm3 0h1v1h-1zm2 0h1v1h-1zm1 0h1v1h-1zm1 0h1v1h-1zm4 0h1v1h-1zm2 0h1v1h-1zm-11 1h1v1h-1zm1 0h1v1h-1zm2 0h1v1h-1zm2 0h1v1h-1zm3 0h1v1h-1zm1 0h1v1h-1zm1 0h1v1h-1zm4 0h1v1h-1zm1 0h1v1h-1zm-15 1h1v1h-1zm2 0h1v1h-1zm3 0h1v1h-1zm1 0h1v1h-1zm1 0h1v1h-1zm1 0h1v1h-1zm1 0h1v1h-1zm2 0h1v1h-1zm2 0h1v1h-1zm-13 1h1v1h-1zm2 0h1v1h-1zm1 0h1v1h-1zm1 0h1v1h-1zm1 0h1v1h-1zm2 0h1v1h-1zm1 0h1v1h-1zm3 0h1v1h-1zm2 0h1v1h-1zm-14 1h1v1h-1zm2 0h1v1h-1zm2 0h1v1h-1zm1 0h1v1h-1zm0 1h1v1h-1zm2 0h1v1h-1zm1 0h1v1h-1zm2 0h1v1h-1zm2 0h1v1h-1zm7 0h1v1h-1zm-19 1h1v1h-1zm2 0h1v1h-1zm1 0h1v1h-1zm2 0h1v1h-1zm1 0h1v1h-1zm1 0h1v1h-1zm1 0h1v1h-1zm1 0h1v1h-1zm3 0h1v1h-1zm2 0h1v1h-1zm-7 1h1v1h-1zm3 0h1v1h-1zm4 0h1v1h-1zm-11 1h1v1h-1zm2 0h1v1h-1zm1 0h1v1h-1zm3 0h1v1h-1zm1 0h1v1h-1zm-8 1h1v1h-1zm1 0h1v1h-1zm2 0h1v1h-1zm1 0h1v1h-1zm1 0h1v1h-1zm1 0h1v1h-1zm5 0h1v1h-1zm6 0h1v1h-1zm-15 1h1v1h-1zm2 0h1v1h-1zm3 0h1v1h-1zm2 0h1v1h-1zm-7 1h1v1h-1zm1 0h1v1h-1zm1 0h1v1h-1zm2 0h1v1h-1zm1 0h1v1h-1zm2 0h1v1h-1zm2 0h1v1h-1zm-9 1h1v1h-1zm2 0h1v1h-1zm2 0h1v1h-1zm-6 1h1v1h-1zm3 0h1v1h-1zm2 0h1v1h-1zm4 0h1v1h-1zm2 0h1v1h-1zm2 0h1v1h-1zm1 0h1v1h-1zm-10 1h1v1h-1zm2 0h1v1h-1zm1 0h1v1h-1zm0 1h1v1h-1zm1 0h1v1h-1zm2 0h1v1h-1zm-8 1h1v1h-1zm1 0h1v1h-1zm7 0h1v1h-1zm2 0h1v1h-1zm1 0h1v1h-1zm1 0h1v1h-1zm1 0h1v1h-1zm-18 1h1v1h-1zm4 0h1v1h-1zm2 0h1v1h-1zm-1 1h1v1h-1zm1 0h1v1h-1zm2 0h1v1h-1zm1 0h1v1h-1zm3 0h1v1h-1z" fill="#9a9a9a"/>
<path d="M0 0m484 311h1v1h-1zm-6 2h1v1h-1zm5 1h1v1h-1zm1 0h1v1h-1zm-6 1h1v1h-1zm2 0h1v1h-1zm5 0h1v1h-1zm-9 1h1v1h-1zm6 0h1v1h-1zm3 0h1v1h-1zm-9 1h1v1h-1zm3 0h1v1h-1zm2 0h1v1h-1zm2 0h1v1h-1zm3 0h1v1h-1zm-6 1h1v1h-1zm1 1h1v1h-1zm1 0h1v1h-1zm4 0h1v1h-1zm-7 1h1v1h-1zm2 0h1v1h-1zm2 1h1v1h-1zm-6 1h1v1h-1zm10 0h1v1h-1zm-5 2h1v1h-1zm7 0h1v1h-1zm-13 1h1v1h-1zm1 0h1v1h-1zm2 0h1v1h-1zm1 0h1v1h-1zm4 0h1v1h-1zm-4 1h1v1h-1zm2 0h1v1h-1zm1 0h1v1h-1zm-5 1h1v1h-1zm2 0h1v1h-1zm3 0h1v1h-1zm-2 1h1v1h-1zm-3 1h1v1h-1zm-2 6h1v1h-1zm-8 1h1v1h-1zm2 0h1v1h-1zm1 0h1v1h-1zm1 0h1v1h-1zm7 0h1v1h-1zm-8 1h1v1h-1zm-1 2h1v1h-1zm2 0h1v1h-1zm4 0h1v1h-1zm-10 1h1v1h-1zm2 0h1v1h-1zm3 0h1v1h-1zm4 0h1v1h-1zm-10 1h1v1h-1zm2 0h1v1h-1zm3 0h1v1h-1zm1 0h1v1h-1zm2 0h1v1h-1zm-4 1h1v1h-1zm1 0h1v1h-1zm1 0h1v1h-1zm1 0h1v1h-1zm9 0h1v1h-1zm-16 1h1v1h-1zm2 0h1v1h-1zm2 0h1v1h-1zm1 0h1v1h-1zm-4 1h1v1h-1zm2 0h1v1h-1zm2 0h1v1h-1zm1 0h1v1h-1zm1 0h1v1h-1zm-6 1h1v1h-1zm3 0h1v1h-1zm1 0h1v1h-1zm-1 1h1v1h-1zm-2 1h1v1h-1zm1 0h1v1h-1zm5 0h1v1h-1zm1 0h1v1h-1zm6 0h1v1h-1zm-15 1h1v1h-1zm3 0h1v1h-1zm5 0h1v1h-1zm-8 1h1v1h-1zm2 0h1v1h-1zm7 0h1v1h-1zm0 1h1v1h-1zm7 0h1v1h-1zm-15 1h1v1h-1zm3 0h1v1h-1zm2 0h1v1h-1zm1 0h1v1h-1zm2 0h1v1h-1zm1 0h1v1h-1zm2 0h1v1h-1zm-12 1h1v1h-1zm14 0h1v1h-1zm-9 1h1v1h-1zm4 0h1v1h-1zm7 0h1v1h-1zm-11 1h1v1h-1zm5 0h1v1h-1zm3 0h1v1h-1zm-13 1h1v1h-1zm3 0h1v1h-1zm2 0h1v1h-1zm4 0h1v1h-1zm6 0h1v1h-1zm2 0h1v1h-1zm-15 1h1v1h-1zm2 0h1v1h-1zm1 0h1v1h-1zm4 0h1v1h-1zm4 0h1v1h-1zm2 0h1v1h-1zm-10 1h1v1h-1zm1 0h1v1h-1zm3 0h1v1h-1zm-3 1h1v1h-1zm1 0h1v1h-1zm-3 1h1v1h-1zm5 0h1v1h-1zm5 0h1v1h-1zm5 0h1v1h-1zm3 0h1v1h-1zm-18 1h1v1h-1zm1 0h1v1h-1zm4 0h1v1h-1zm2 0h1v1h-1zm1 0h1v1h-1zm-5 1h1v1h-1zm8 0h1v1h-1zm-15 1h1v1h-1zm5 1h1v1h-1zm7 0h1v1h-1zm-10 1h1v1h-1zm6 0h1v1h-1zm1 0h1v1h-1zm7 0h1v1h-1zm-15 1h1v1h-1zm1 0h1v1h-1zm3 0h1v1h-1zm1 0h1v1h-1zm-2 1h1v1h-1zm15 0h1v1h-1zm-20 1h1v1h-1zm5 0h1v1h-1zm1 0h1v1h-1zm1 0h1v1h-1zm2 0h1v1h-1zm7 0h1v1h-1zm2 0h1v1h-1zm-17 2h1v1h-1zm11 0h1v1h-1zm9 0h1v1h-1zm-10 1h1v1h-1zm0 1h1v1h-1zm1 0h1v1h-1zm0 1h1v1h-1zm1 0h1v1h-1zm1 0h1v1h-1zm1 0h1v1h-1zm-4 1h1v1h-1z" fill="#5a5a5a"/>
<path d="M0 0m471 333h1v1h-1zm-1 2h1v1h-1zm2 0h1v1h-1zm10 0h1v1h-1zm2 0h1v1h-1zm-17 1h1v1h-1zm2 0h1v1h-1zm1 0h1v1h-1zm1 0h1v1h-1zm3 0h1v1h-1zm1 0h1v1h-1zm1 0h1v1h-1zm1 0h1v1h-1zm3 0h1v1h-1zm1 0h1v1h-1zm1 0h1v1h-1zm1 0h1v1h-1zm2 0h1v1h-1zm1 0h1v1h-1zm-18 1h1v1h-1zm2 0h1v1h-1zm3 0h1v1h-1zm2 0h1v1h-1zm9 0h1v1h-1zm2 0h1v1h-1zm1 0h1v1h-1zm1 0h1v1h-1zm1 0h1v1h-1zm-21 1h1v1h-1zm1 0h1v1h-1zm1 0h1v1h-1zm2 0h1v1h-1zm17 0h1v1h-1zm-22 1h1v1h-1zm1 0h1v1h-1zm1 0h1v1h-1zm1 0h1v1h-1zm1 0h1v1h-1zm1 0h1v1h-1zm18 0h1v1h-1zm-24 1h1v1h-1zm1 0h1v1h-1zm1 0h1v1h-1zm1 0h1v1h-1zm2 0h1v1h-1zm1 0h1v1h-1zm8 0h1v1h-1zm11 0h1v1h-1zm-25 1h1v1h-1zm2 0h1v1h-1zm1 0h1v1h-1zm2 0h1v1h-1zm2 0h1v1h-1zm16 0h1v1h-1zm1 0h1v1h-1zm-23 1h1v1h-1zm2 0h1v1h-1zm1 0h1v1h-1zm2 0h1v1h-1zm19 0h1v1h-1zm-27 1h1v1h-1zm1 0h1v1h-1zm1 0h1v1h-1zm1 0h1v1h-1zm1 0h1v1h-1zm1 0h1v1h-1zm1 0h1v1h-1zm1 0h1v1h-1zm2 0h1v1h-1zm17 0h1v1h-1zm-24 1h1v1h-1zm2 0h1v1h-1zm1 0h1v1h-1zm1 0h1v1h-1zm1 0h1v1h-1zm1 0h1v1h-1zm2 0h1v1h-1zm3 0h1v1h-1zm13 0h1v1h-1zm-24 1h1v1h-1zm1 0h1v1h-1zm1 0h1v1h-1zm1 0h1v1h-1zm1 0h1v1h-1zm1 0h1v1h-1zm1 0h1v1h-1zm2 0h1v1h-1zm16 0h1v1h-1zm-25 1h1v1h-1zm1 0h1v1h-1zm1 0h1v1h-1zm1 0h1v1h-1zm1 0h1v1h-1zm1 0h1v1h-1zm1 0h1v1h-1zm1 0h1v1h-1zm1 0h1v1h-1zm5 0h1v1h-1zm-13 1h1v1h-1zm2 0h1v1h-1zm1 0h1v1h-1zm1 0h1v1h-1zm1 0h1v1h-1zm1 0h1v1h-1zm1 0h1v1h-1zm1 0h1v1h-1zm4 0h1v1h-1zm3 0h1v1h-1zm3 0h1v1h-1zm8 0h1v1h-1zm-27 1h1v1h-1zm2 0h1v1h-1zm1 0h1v1h-1zm1 0h1v1h-1zm1 0h1v1h-1zm2 0h1v1h-1zm1 0h1v1h-1zm1 0h1v1h-1zm2 0h1v1h-1zm2 0h1v1h-1zm3 0h1v1h-1zm-15 1h1v1h-1zm1 0h1v1h-1zm1 0h1v1h-1zm1 0h1v1h-1zm1 0h1v1h-1zm1 0h1v1h-1zm1 0h1v1h-1zm1 0h1v1h-1zm1 0h1v1h-1zm3 0h1v1h-1zm2 0h1v1h-1zm2 0h1v1h-1zm-15 1h1v1h-1zm1 0h1v1h-1zm2 0h1v1h-1zm1 0h1v1h-1zm1 0h1v1h-1zm1 0h1v1h-1zm1 0h1v1h-1zm1 0h1v1h-1zm2 0h1v1h-1zm5 0h1v1h-1zm10 0h1v1h-1zm-23 1h1v1h-1zm1 0h1v1h-1zm1 0h1v1h-1zm1 0h1v1h-1zm1 0h1v1h-1zm1 0h1v1h-1zm2 0h1v1h-1zm7 0h1v1h-1zm2 0h1v1h-1zm6 0h1v1h-1zm-24 1h1v1h-1zm3 0h1v1h-1zm1 0h1v1h-1zm1 0h1v1h-1zm1 0h1v1h-1zm1 0h1v1h-1zm1 0h1v1h-1zm2 0h1v1h-1zm1 0h1v1h-1zm2 0h1v1h-1zm4 0h1v1h-1zm2 0h1v1h-1zm7 0h1v1h-1zm-24 1h1v1h-1zm1 0h1v1h-1zm2 0h1v1h-1zm2 0h1v1h-1zm2 0h1v1h-1zm1 0h1v1h-1zm1 0h1v1h-1zm8 0h1v1h-1zm2 0h1v1h-1zm-19 1h1v1h-1zm1 0h1v1h-1zm3 0h1v1h-1zm2 0h1v1h-1zm1 0h1v1h-1zm3 0h1v1h-1zm10 0h1v1h-1zm4 0h1v1h-1zm-26 1h1v1h-1zm1 0h1v1h-1zm1 0h1v1h-1zm1 0h1v1h-1zm1 0h1v1h-1zm3 0h1v1h-1zm3 0h1v1h-1zm1 0h1v1h-1zm14 0h1v1h-1zm1 0h1v1h-1zm-24 1h1v1h-1zm1 0h1v1h-1zm2 0h1v1h-1zm1 0h1v1h-1zm4 0h1v1h-1zm1 0h1v1h-1zm1 0h1v1h-1zm1 0h1v1h-1zm1 0h1v1h-1zm-11 1h1v1h-1zm1 0h1v1h-1zm2 0h1v1h-1zm1 0h1v1h-1zm2 0h1v1h-1zm1 0h1v1h-1zm1 0h1v1h-1zm1 0h1v1h-1zm4 0h1v1h-1zm1 0h1v1h-1zm2 0h1v1h-1zm-17 1h1v1h-1zm8 0h1v1h-1zm14 0h1v1h-1zm-17 1h1v1h-1zm3 0h1v1h-1zm2 0h1v1h-1zm3 0h1v1h-1zm2 0h1v1h-1zm3 0h1v1h-1zm4 0h1v1h-1zm1 0h1v1h-1zm-20 1h1v1h-1zm3 0h1v1h-1zm1 0h1v1h-1zm2 0h1v1h-1zm3 0h1v1h-1zm1 0h1v1h-1zm1 0h1v1h-1zm5 0h1v1h-1zm-11 1h1v1h-1zm5 0h1v1h-1zm8 0h1v1h-1zm2 0h1v1h-1zm-21 1h1v1h-1zm1 0h1v1h-1zm2 0h1v1h-1zm8 0h1v1h-1zm1 0h1v1h-1zm5 0h1v1h-1zm1 0h1v1h-1zm1 0h1v1h-1zm-15 1h1v1h-1zm7 0h1v1h-1zm2 0h1v1h-1zm1 0h1v1h-1zm2 0h1v1h-1zm2 0h1v1h-1zm1 0h1v1h-1zm1 0h1v1h-1zm-14 1h1v1h-1zm3 0h1v1h-1zm2 0h1v1h-1zm1 0h1v1h-1zm1 0h1v1h-1zm5 0h1v1h-1zm-6 1h1v1h-1zm2 0h1v1h-1zm1 0h1v1h-1zm2 0h1v1h-1zm3 0h1v1h-1zm-11 1h1v1h-1zm2 0h1v1h-1zm2 0h1v1h-1zm1 0h1v1h-1zm3 0h1v1h-1zm-15 1h1v1h-1zm6 0h1v1h-1zm1 0h1v1h-1zm3 0h1v1h-1zm3 0h1v1h-1zm1 0h1v1h-1zm1 0h1v1h-1zm1 0h1v1h-1zm-12 1h1v1h-1zm3 0h1v1h-1zm1 0h1v1h-1zm3 0h1v1h-1zm1 0h1v1h-1zm1 0h1v1h-1zm1 0h1v1h-1zm2 0h1v1h-1zm-11 1h1v1h-1zm3 0h1v1h-1zm1 0h1v1h-1zm1 0h1v1h-1zm1 0h1v1h-1zm2 0h1v1h-1zm1 0h1v1h-1zm1 0h1v1h-1zm2 0h1v1h-1zm2 0h1v1h-1zm-11 1h1v1h-1zm1 0h1v1h-1zm2 0h1v1h-1zm5 0h1v1h-1zm-7 1h1v1h-1zm2 0h1v1h-1zm1 0h1v1h-1zm1 0h1v1h-1zm6 0h1v1h-1zm-13 1h1v1h-1zm3 0h1v1h-1zm3 0h1v1h-1zm1 0h1v1h-1zm3 0h1v1h-1zm-9 1h1v1h-1zm2 0h1v1h-1zm1 0h1v1h-1zm2 0h1v1h-1zm2 0h1v1h-1zm1 0h1v1h-1zm4 0h1v1h-1zm-9 1h1v1h-1zm1 0h1v1h-1zm1 0h1v1h-1zm1 0h1v1h-1zm1 0h1v1h-1zm1 0h1v1h-1zm-8 1h1v1h-1zm3 0h1v1h-1zm4 0h1v1h-1zm1 0h1v1h-1zm1 0h1v1h-1zm2 0h1v1h-1zm-7 1h1v1h-1zm1 0h1v1h-1zm1 0h1v1h-1zm2 0h1v1h-1zm-5 1h1v1h-1zm1 0h1v1h-1zm2 0h1v1h-1zm2 0h1v1h-1zm-7 1h1v1h-1zm2 0h1v1h-1zm5 1h1v1h-1zm-3 1h1v1h-1zm2 1h1v1h-1zm-8 1h1v1h-1zm9 0h1v1h-1zm-4 1h1v1h-1zm1 0h1v1h-1z" fill="#1e1e1e"/>
<polygon points="473,338.4 477,337.2 481,336.9 485,337.3 488.5,338.7 490,342.9 490,349.9 489.5,355.9 488.5,360.9 487,364.9 485,367.9 483,365.9 481.5,361.9 480,358.9 478,355.4 475.5,351.9 473.5,347.9 472.6,342.9" fill="#0a0a0a"/>
</g>
<polygon points="436.2,295.9 474.8,295.9 487.6,308.9 465.6,318.8 462,317.4 436.2,317.4" fill="none" stroke="#222" stroke-width="0.9" stroke-linejoin="round"/>
<polygon points="465.6,318.8 487.6,308.9 491.8,331.2 470.6,333.4 470.6,323.3" fill="none" stroke="#222" stroke-width="0.9" stroke-linejoin="round"/>
<polygon points="470.6,333.4 491.8,331.2 492.3,385.5 464.5,385.5 464.5,340.4" fill="none" stroke="#222" stroke-width="0.9" stroke-linejoin="round"/>
<text x="410.6" y="300.9" font-size="7.4" fill="#0a0a0a" stroke="#0a0a0a" stroke-width="0.18" textLength="51.5" lengthAdjust="spacingAndGlyphs">CD14<tspan font-size="5.6" font-weight="bold" dy="-0.4">+</tspan><tspan dy="0.4">CD16</tspan><tspan font-size="5.6" font-weight="bold" dy="-0.4">++</tspan></text>
<text x="408.9" y="329.8" font-size="7.4" fill="#0a0a0a" stroke="#0a0a0a" stroke-width="0.18" textLength="51" lengthAdjust="spacingAndGlyphs">CD14<tspan font-size="5.6" font-weight="bold" dy="-0.4">++</tspan><tspan dy="0.4">CD16</tspan><tspan font-size="5.6" font-weight="bold" dy="-0.4">+</tspan></text>
<text x="409.6" y="382.2" font-size="7.4" fill="#0a0a0a" stroke="#0a0a0a" stroke-width="0.18" textLength="49.5" lengthAdjust="spacingAndGlyphs">CD14<tspan font-size="5.6" font-weight="bold" dy="-0.4">++</tspan><tspan dy="0.4">CD16-</tspan></text>
<path d="M406.7,386.1v2.8M410.0,386.1v2.8M412.6,386.1v2.8M414.7,386.1v2.8M416.5,386.1v2.8M418.0,386.1v2.8M419.4,386.1v2.8M420.6,386.1v3.8M428.6,386.1v2.8M433.3,386.1v2.8M436.6,386.1v2.8M439.2,386.1v2.8M441.3,386.1v2.8M443.1,386.1v2.8M444.6,386.1v2.8M446.0,386.1v2.8M447.2,386.1v3.8M455.2,386.1v2.8M459.9,386.1v2.8M463.2,386.1v2.8M465.8,386.1v2.8M467.9,386.1v2.8M469.7,386.1v2.8M471.2,386.1v2.8M472.6,386.1v2.8M473.8,386.1v3.8M481.8,386.1v2.8M486.5,386.1v2.8M489.8,386.1v2.8M492.4,386.1v2.8M494.5,386.1v2.8M496.3,386.1v2.8M497.8,386.1v2.8M499.2,386.1v2.8M500.4,386.1v3.8M508.4,386.1v2.8M405.2,299.7h-3.8M405.2,292.4h-2.4M405.2,323.9h-3.8M405.2,316.6h-2.4M405.2,312.4h-2.4M405.2,309.3h-2.4M405.2,307.0h-2.4M405.2,305.1h-2.4M405.2,303.4h-2.4M405.2,302.0h-2.4M405.2,300.8h-2.4M405.2,348.2h-3.8M405.2,340.9h-2.4M405.2,336.6h-2.4M405.2,333.6h-2.4M405.2,331.2h-2.4M405.2,329.3h-2.4M405.2,327.7h-2.4M405.2,326.3h-2.4M405.2,325.0h-2.4M405.2,372.4h-3.8M405.2,365.1h-2.4M405.2,360.9h-2.4M405.2,357.8h-2.4M405.2,355.5h-2.4M405.2,353.6h-2.4M405.2,351.9h-2.4M405.2,350.5h-2.4M405.2,349.3h-2.4M405.2,385.1h-2.4M405.2,382.0h-2.4M405.2,379.7h-2.4M405.2,377.8h-2.4M405.2,376.1h-2.4M405.2,374.7h-2.4M405.2,373.5h-2.4" stroke="#1a1a1a" stroke-width="0.85"/>
<text x="418.7" y="398.3" font-size="5.6" text-anchor="middle" fill="#000" letter-spacing="-0.25">10</text>
<text x="421.6" y="394.3" font-size="5.4" fill="#000">2</text>
<text x="445.3" y="398.3" font-size="5.6" text-anchor="middle" fill="#000" letter-spacing="-0.25">10</text>
<text x="448.2" y="394.3" font-size="5.4" fill="#000">3</text>
<text x="471.9" y="398.3" font-size="5.6" text-anchor="middle" fill="#000" letter-spacing="-0.25">10</text>
<text x="474.8" y="394.3" font-size="5.4" fill="#000">4</text>
<text x="498.5" y="398.3" font-size="5.6" text-anchor="middle" fill="#000" letter-spacing="-0.25">10</text>
<text x="501.4" y="394.3" font-size="5.4" fill="#000">5</text>
<text transform="translate(398.9,300.1) rotate(-90)" font-size="5.9" text-anchor="middle" fill="#000" letter-spacing="-0.3">10</text>
<text transform="translate(395.0,297.1) rotate(-90)" font-size="5.4" fill="#000">5</text>
<text transform="translate(398.9,324.3) rotate(-90)" font-size="5.9" text-anchor="middle" fill="#000" letter-spacing="-0.3">10</text>
<text transform="translate(395.0,321.3) rotate(-90)" font-size="5.4" fill="#000">4</text>
<text transform="translate(398.9,348.6) rotate(-90)" font-size="5.9" text-anchor="middle" fill="#000" letter-spacing="-0.3">10</text>
<text transform="translate(395.0,345.6) rotate(-90)" font-size="5.4" fill="#000">3</text>
<text transform="translate(398.9,372.8) rotate(-90)" font-size="5.9" text-anchor="middle" fill="#000" letter-spacing="-0.3">10</text>
<text transform="translate(395.0,369.8) rotate(-90)" font-size="5.4" fill="#000">2</text>
<text x="458.4" y="407.8" font-size="7.4" text-anchor="middle" fill="#111" stroke="#111" stroke-width="0.18" textLength="45.5" lengthAdjust="spacingAndGlyphs">CD14 FITC-A</text>
<text transform="translate(389.4,337.4) rotate(-90)" font-size="7.5" text-anchor="middle" fill="#111" stroke="#111" stroke-width="0.18" textLength="37.8" lengthAdjust="spacingAndGlyphs">CD16 PE-A</text>
<rect x="405.2" y="426.4" width="106.2" height="96.8" fill="none" stroke="#333" stroke-width="0.9"/>
<text x="338.8" y="422.3" font-size="11.3" fill="#111" stroke="#111" stroke-width="0.3" textLength="36.3" lengthAdjust="spacingAndGlyphs">day 28</text>
<g filter="url(#bl)">
<path d="M0 0m458 433h1v1h-1zm1 0h1v1h-1zm5 0h1v1h-1zm2 0h1v1h-1zm-6 1h1v1h-1zm-3 1h1v1h-1zm1 0h1v1h-1zm6 0h1v1h-1zm11 0h1v1h-1zm-12 1h1v1h-1zm-22 1h1v1h-1zm26 0h1v1h-1zm2 0h1v1h-1zm4 0h1v1h-1zm3 0h1v1h-1zm-14 1h1v1h-1zm6 0h1v1h-1zm1 0h1v1h-1zm-12 1h1v1h-1zm3 0h1v1h-1zm1 0h1v1h-1zm4 0h1v1h-1zm2 0h1v1h-1zm4 0h1v1h-1zm3 0h1v1h-1zm1 0h1v1h-1zm1 0h1v1h-1zm-16 1h1v1h-1zm1 0h1v1h-1zm6 0h1v1h-1zm1 0h1v1h-1zm12 0h1v1h-1zm-18 1h1v1h-1zm5 0h1v1h-1zm1 0h1v1h-1zm8 0h1v1h-1zm3 0h1v1h-1zm-18 1h1v1h-1zm1 0h1v1h-1zm1 0h1v1h-1zm4 0h1v1h-1zm2 0h1v1h-1zm1 0h1v1h-1zm4 0h1v1h-1zm2 0h1v1h-1zm1 0h1v1h-1zm1 0h1v1h-1zm-24 1h1v1h-1zm8 0h1v1h-1zm2 0h1v1h-1zm2 0h1v1h-1zm2 0h1v1h-1zm1 0h1v1h-1zm1 0h1v1h-1zm1 0h1v1h-1zm4 0h1v1h-1zm4 0h1v1h-1zm1 0h1v1h-1zm1 0h1v1h-1zm2 0h1v1h-1zm-39 1h1v1h-1zm16 0h1v1h-1zm2 0h1v1h-1zm1 0h1v1h-1zm1 0h1v1h-1zm3 0h1v1h-1zm3 0h1v1h-1zm2 0h1v1h-1zm2 0h1v1h-1zm2 0h1v1h-1zm1 0h1v1h-1zm-50 1h1v1h-1zm29 0h1v1h-1zm4 0h1v1h-1zm7 0h1v1h-1zm1 0h1v1h-1zm1 0h1v1h-1zm2 0h1v1h-1zm1 0h1v1h-1zm4 0h1v1h-1zm1 0h1v1h-1zm8 0h1v1h-1zm-27 1h1v1h-1zm2 0h1v1h-1zm5 0h1v1h-1zm1 0h1v1h-1zm1 0h1v1h-1zm5 0h1v1h-1zm2 0h1v1h-1zm9 0h1v1h-1zm-23 1h1v1h-1zm1 0h1v1h-1zm3 0h1v1h-1zm2 0h1v1h-1zm4 0h1v1h-1zm3 0h1v1h-1zm5 0h1v1h-1zm3 0h1v1h-1zm2 0h1v1h-1zm-38 1h1v1h-1zm6 0h1v1h-1zm12 0h1v1h-1zm7 0h1v1h-1zm2 0h1v1h-1zm9 0h1v1h-1zm-18 1h1v1h-1zm2 0h1v1h-1zm4 0h1v1h-1zm4 0h1v1h-1zm3 0h1v1h-1zm1 0h1v1h-1zm1 0h1v1h-1zm6 0h1v1h-1zm-31 1h1v1h-1zm6 0h1v1h-1zm5 0h1v1h-1zm9 0h1v1h-1zm4 0h1v1h-1zm-8 1h1v1h-1zm4 0h1v1h-1zm2 0h1v1h-1zm3 0h1v1h-1zm1 0h1v1h-1zm4 0h1v1h-1zm-15 1h1v1h-1zm2 0h1v1h-1zm13 0h1v1h-1zm-16 1h1v1h-1zm16 0h1v1h-1zm4 0h1v1h-1zm-9 1h1v1h-1zm1 0h1v1h-1zm-7 1h1v1h-1zm2 0h1v1h-1zm3 0h1v1h-1zm2 0h1v1h-1zm5 0h1v1h-1zm-1 1h1v1h-1zm1 0h1v1h-1zm2 0h1v1h-1zm-19 1h1v1h-1zm3 0h1v1h-1zm6 0h1v1h-1zm2 0h1v1h-1zm2 0h1v1h-1zm2 0h1v1h-1zm5 0h1v1h-1zm-17 1h1v1h-1zm5 0h1v1h-1zm1 0h1v1h-1zm3 0h1v1h-1zm1 0h1v1h-1zm2 0h1v1h-1zm-8 1h1v1h-1zm2 0h1v1h-1zm1 0h1v1h-1zm2 0h1v1h-1zm4 0h1v1h-1zm4 0h1v1h-1zm-13 1h1v1h-1zm15 0h1v1h-1zm-15 1h1v1h-1zm2 0h1v1h-1zm8 0h1v1h-1zm1 0h1v1h-1zm-9 1h1v1h-1zm3 0h1v1h-1zm2 0h1v1h-1zm1 0h1v1h-1zm1 0h1v1h-1zm1 0h1v1h-1zm1 0h1v1h-1zm3 0h1v1h-1zm-11 1h1v1h-1zm-2 1h1v1h-1zm3 0h1v1h-1zm3 0h1v1h-1zm9 0h1v1h-1zm-11 1h1v1h-1zm10 0h1v1h-1zm-16 1h1v1h-1zm2 0h1v1h-1zm7 0h1v1h-1zm1 0h1v1h-1zm-9 1h1v1h-1zm3 0h1v1h-1zm5 0h1v1h-1zm-8 1h1v1h-1zm5 0h1v1h-1zm-6 1h1v1h-1zm-3 6h1v1h-1zm9 0h1v1h-1zm-3 1h1v1h-1zm-6 1h1v1h-1zm-5 4h1v1h-1zm4 0h1v1h-1zm-2 1h1v1h-1zm6 1h1v1h-1zm-3 1h1v1h-1zm1 0h1v1h-1zm2 0h1v1h-1zm1 0h1v1h-1zm1 0h1v1h-1zm1 1h1v1h-1zm-4 1h1v1h-1zm1 0h1v1h-1zm4 0h1v1h-1zm-11 1h1v1h-1zm1 0h1v1h-1zm3 0h1v1h-1zm1 0h1v1h-1zm-1 1h1v1h-1zm1 0h1v1h-1zm1 0h1v1h-1zm-6 1h1v1h-1zm2 0h1v1h-1zm5 0h1v1h-1zm-9 1h1v1h-1zm4 0h1v1h-1zm4 0h1v1h-1zm2 0h1v1h-1zm6 0h1v1h-1zm-8 1h1v1h-1zm3 0h1v1h-1zm-11 1h1v1h-1zm6 0h1v1h-1zm2 0h1v1h-1zm1 0h1v1h-1zm-7 1h1v1h-1zm1 0h1v1h-1zm1 0h1v1h-1zm1 0h1v1h-1zm2 0h1v1h-1zm2 0h1v1h-1zm4 0h1v1h-1zm5 0h1v1h-1zm-17 1h1v1h-1zm2 0h1v1h-1zm2 0h1v1h-1zm1 0h1v1h-1zm2 0h1v1h-1zm1 0h1v1h-1zm2 0h1v1h-1zm2 0h1v1h-1zm2 0h1v1h-1zm-13 1h1v1h-1zm1 0h1v1h-1zm1 0h1v1h-1zm1 0h1v1h-1zm1 0h1v1h-1zm2 0h1v1h-1zm3 0h1v1h-1zm1 0h1v1h-1zm-7 1h1v1h-1zm1 0h1v1h-1zm2 0h1v1h-1zm1 0h1v1h-1zm1 0h1v1h-1zm-8 1h1v1h-1zm2 0h1v1h-1zm3 0h1v1h-1zm1 0h1v1h-1zm4 0h1v1h-1zm-11 1h1v1h-1zm1 0h1v1h-1zm2 0h1v1h-1zm5 0h1v1h-1zm2 0h1v1h-1zm3 0h1v1h-1zm-11 1h1v1h-1zm1 0h1v1h-1zm1 0h1v1h-1zm2 0h1v1h-1zm7 0h1v1h-1zm1 0h1v1h-1zm4 0h1v1h-1zm-16 1h1v1h-1zm1 0h1v1h-1zm2 0h1v1h-1zm1 0h1v1h-1zm2 0h1v1h-1zm1 0h1v1h-1zm-2 1h1v1h-1zm1 0h1v1h-1zm1 0h1v1h-1zm8 0h1v1h-1zm-17 1h1v1h-1zm1 0h1v1h-1zm2 0h1v1h-1zm3 0h1v1h-1zm1 0h1v1h-1zm1 0h1v1h-1zm4 0h1v1h-1zm1 0h1v1h-1zm1 0h1v1h-1zm-15 1h1v1h-1zm1 0h1v1h-1zm2 0h1v1h-1zm6 0h1v1h-1zm1 0h1v1h-1zm2 0h1v1h-1zm10 0h1v1h-1zm-20 1h1v1h-1zm5 0h1v1h-1zm3 0h1v1h-1zm1 0h1v1h-1zm-10 1h1v1h-1zm1 0h1v1h-1zm2 0h1v1h-1zm2 0h1v1h-1zm2 0h1v1h-1zm1 0h1v1h-1zm-9 1h1v1h-1zm2 0h1v1h-1zm1 0h1v1h-1zm1 0h1v1h-1zm3 0h1v1h-1zm3 0h1v1h-1zm-5 1h1v1h-1zm1 0h1v1h-1zm3 0h1v1h-1zm2 0h1v1h-1zm1 0h1v1h-1zm1 0h1v1h-1zm-11 1h1v1h-1zm1 0h1v1h-1zm1 0h1v1h-1zm2 0h1v1h-1zm6 0h1v1h-1zm1 0h1v1h-1zm-12 1h1v1h-1zm1 0h1v1h-1zm1 0h1v1h-1zm1 0h1v1h-1zm2 0h1v1h-1zm1 0h1v1h-1zm1 0h1v1h-1zm1 0h1v1h-1zm1 0h1v1h-1zm1 0h1v1h-1zm3 0h1v1h-1zm-11 1h1v1h-1zm4 0h1v1h-1zm1 0h1v1h-1zm1 0h1v1h-1zm1 0h1v1h-1zm2 0h1v1h-1zm-11 1h1v1h-1zm1 0h1v1h-1zm1 0h1v1h-1zm2 0h1v1h-1zm1 0h1v1h-1zm2 0h1v1h-1zm1 0h1v1h-1zm2 0h1v1h-1zm2 0h1v1h-1zm1 0h1v1h-1zm-12 1h1v1h-1zm2 0h1v1h-1zm2 0h1v1h-1zm3 0h1v1h-1zm1 0h1v1h-1zm1 0h1v1h-1zm3 0h1v1h-1zm-14 1h1v1h-1zm1 0h1v1h-1zm5 0h1v1h-1zm2 0h1v1h-1zm1 0h1v1h-1zm1 0h1v1h-1zm2 0h1v1h-1zm1 0h1v1h-1zm1 0h1v1h-1zm-11 1h1v1h-1zm4 0h1v1h-1zm4 0h1v1h-1zm4 0h1v1h-1zm-13 1h1v1h-1zm1 0h1v1h-1zm8 0h1v1h-1zm-10 1h1v1h-1zm3 0h1v1h-1zm9 0h1v1h-1zm-9 1h1v1h-1zm5 0h1v1h-1zm2 0h1v1h-1zm3 0h1v1h-1zm-6 1h1v1h-1zm-2 1h1v1h-1zm1 0h1v1h-1zm3 0h1v1h-1zm2 0h1v1h-1zm-8 1h1v1h-1zm3 0h1v1h-1zm3 0h1v1h-1zm3 0h1v1h-1z" fill="#9a9a9a"/>
<path d="M0 0m471 439h1v1h-1zm6 0h1v1h-1zm-6 1h1v1h-1zm2 0h1v1h-1zm4 0h1v1h-1zm1 0h1v1h-1zm-6 1h1v1h-1zm1 0h1v1h-1zm-8 1h1v1h-1zm6 0h1v1h-1zm1 0h1v1h-1zm2 0h1v1h-1zm4 0h1v1h-1zm1 0h1v1h-1zm-14 1h1v1h-1zm6 0h1v1h-1zm2 0h1v1h-1zm1 0h1v1h-1zm1 0h1v1h-1zm2 0h1v1h-1zm2 0h1v1h-1zm1 0h1v1h-1zm1 0h1v1h-1zm-8 1h1v1h-1zm1 0h1v1h-1zm1 0h1v1h-1zm1 0h1v1h-1zm1 0h1v1h-1zm2 0h1v1h-1zm-9 1h1v1h-1zm1 0h1v1h-1zm1 0h1v1h-1zm2 0h1v1h-1zm1 0h1v1h-1zm1 0h1v1h-1zm1 0h1v1h-1zm1 0h1v1h-1zm2 0h1v1h-1zm3 0h1v1h-1zm-11 1h1v1h-1zm1 0h1v1h-1zm2 0h1v1h-1zm1 0h1v1h-1zm2 0h1v1h-1zm3 0h1v1h-1zm1 0h1v1h-1zm1 0h1v1h-1zm2 0h1v1h-1zm-10 1h1v1h-1zm2 0h1v1h-1zm1 0h1v1h-1zm1 0h1v1h-1zm1 0h1v1h-1zm1 0h1v1h-1zm1 0h1v1h-1zm1 0h1v1h-1zm1 0h1v1h-1zm2 0h1v1h-1zm-14 1h1v1h-1zm5 0h1v1h-1zm1 0h1v1h-1zm1 0h1v1h-1zm1 0h1v1h-1zm5 0h1v1h-1zm-12 1h1v1h-1zm1 0h1v1h-1zm2 0h1v1h-1zm6 0h1v1h-1zm-7 1h1v1h-1zm3 0h1v1h-1zm-6 1h1v1h-1zm6 0h1v1h-1zm1 0h1v1h-1zm1 0h1v1h-1zm1 0h1v1h-1zm3 0h1v1h-1zm3 0h1v1h-1zm-12 1h1v1h-1zm2 0h1v1h-1zm3 0h1v1h-1zm2 0h1v1h-1zm2 0h1v1h-1zm2 0h1v1h-1zm-8 1h1v1h-1zm2 0h1v1h-1zm2 0h1v1h-1zm1 0h1v1h-1zm1 0h1v1h-1zm1 0h1v1h-1zm3 0h1v1h-1zm-13 1h1v1h-1zm3 0h1v1h-1zm1 0h1v1h-1zm1 0h1v1h-1zm2 0h1v1h-1zm1 0h1v1h-1zm4 0h1v1h-1zm-6 1h1v1h-1zm1 0h1v1h-1zm2 0h1v1h-1zm2 0h1v1h-1zm-9 1h1v1h-1zm1 0h1v1h-1zm3 0h1v1h-1zm4 0h1v1h-1zm1 0h1v1h-1zm-9 1h1v1h-1zm1 0h1v1h-1zm1 0h1v1h-1zm2 0h1v1h-1zm2 0h1v1h-1zm4 0h1v1h-1zm-11 1h1v1h-1zm1 0h1v1h-1zm1 0h1v1h-1zm-3 1h1v1h-1zm3 0h1v1h-1zm2 0h1v1h-1zm3 0h1v1h-1zm2 0h1v1h-1zm-8 1h1v1h-1zm3 0h1v1h-1zm2 0h1v1h-1zm1 0h1v1h-1zm-2 1h1v1h-1zm5 1h1v1h-1zm-16 14h1v1h-1zm3 3h1v1h-1zm-6 1h1v1h-1zm4 1h1v1h-1zm-5 1h1v1h-1zm2 0h1v1h-1zm6 0h1v1h-1zm2 0h1v1h-1zm-5 1h1v1h-1zm1 0h1v1h-1zm-6 1h1v1h-1zm2 0h1v1h-1zm2 0h1v1h-1zm7 0h1v1h-1zm-10 1h1v1h-1zm1 0h1v1h-1zm1 0h1v1h-1zm7 0h1v1h-1zm1 0h1v1h-1zm-9 1h1v1h-1zm1 0h1v1h-1zm1 0h1v1h-1zm3 0h1v1h-1zm1 0h1v1h-1zm1 0h1v1h-1zm3 0h1v1h-1zm2 0h1v1h-1zm-13 1h1v1h-1zm2 0h1v1h-1zm1 0h1v1h-1zm1 0h1v1h-1zm4 0h1v1h-1zm-10 1h1v1h-1zm2 0h1v1h-1zm1 0h1v1h-1zm1 0h1v1h-1zm2 0h1v1h-1zm3 0h1v1h-1zm2 0h1v1h-1zm2 0h1v1h-1zm3 0h1v1h-1zm7 0h1v1h-1zm-21 1h1v1h-1zm2 0h1v1h-1zm2 0h1v1h-1zm3 0h1v1h-1zm4 0h1v1h-1zm1 0h1v1h-1zm1 0h1v1h-1zm-14 1h1v1h-1zm2 0h1v1h-1zm1 0h1v1h-1zm1 0h1v1h-1zm2 0h1v1h-1zm1 0h1v1h-1zm1 0h1v1h-1zm2 0h1v1h-1zm1 0h1v1h-1zm4 0h1v1h-1zm2 0h1v1h-1zm5 0h1v1h-1zm-21 1h1v1h-1zm6 0h1v1h-1zm3 0h1v1h-1zm4 0h1v1h-1zm4 0h1v1h-1zm-17 1h1v1h-1zm1 0h1v1h-1zm10 0h1v1h-1zm1 0h1v1h-1zm-13 1h1v1h-1zm4 0h1v1h-1zm1 0h1v1h-1zm1 0h1v1h-1zm5 0h1v1h-1zm1 0h1v1h-1zm1 0h1v1h-1zm-12 1h1v1h-1zm1 0h1v1h-1zm2 0h1v1h-1zm1 0h1v1h-1zm2 0h1v1h-1zm2 0h1v1h-1zm1 0h1v1h-1zm1 0h1v1h-1zm2 0h1v1h-1zm1 0h1v1h-1zm2 0h1v1h-1zm-16 1h1v1h-1zm6 0h1v1h-1zm1 0h1v1h-1zm15 0h1v1h-1zm-23 1h1v1h-1zm6 0h1v1h-1zm2 0h1v1h-1zm1 0h1v1h-1zm1 0h1v1h-1zm3 0h1v1h-1zm2 0h1v1h-1zm1 0h1v1h-1zm-13 1h1v1h-1zm1 0h1v1h-1zm2 0h1v1h-1zm2 0h1v1h-1zm6 0h1v1h-1zm3 0h1v1h-1zm-14 1h1v1h-1zm6 0h1v1h-1zm5 0h1v1h-1zm6 0h1v1h-1zm1 0h1v1h-1zm-15 1h1v1h-1zm4 0h1v1h-1zm8 0h1v1h-1zm3 0h1v1h-1zm-20 1h1v1h-1zm9 0h1v1h-1zm6 0h1v1h-1zm5 0h1v1h-1zm-22 1h1v1h-1zm1 0h1v1h-1zm4 0h1v1h-1zm5 0h1v1h-1zm-5 1h1v1h-1zm8 0h1v1h-1zm3 0h1v1h-1zm9 0h1v1h-1zm-17 1h1v1h-1zm5 0h1v1h-1zm10 0h1v1h-1zm1 0h1v1h-1zm-19 1h1v1h-1zm3 0h1v1h-1zm3 0h1v1h-1zm3 0h1v1h-1zm-8 1h1v1h-1zm8 0h1v1h-1zm3 0h1v1h-1zm-10 1h1v1h-1zm2 0h1v1h-1zm3 0h1v1h-1zm4 0h1v1h-1zm-11 1h1v1h-1zm6 0h1v1h-1zm2 0h1v1h-1zm1 0h1v1h-1zm2 0h1v1h-1zm7 0h1v1h-1zm-22 1h1v1h-1zm17 0h1v1h-1zm5 0h1v1h-1zm-20 1h1v1h-1zm12 1h1v1h-1zm2 0h1v1h-1zm2 0h1v1h-1zm-4 1h1v1h-1zm-8 3h1v1h-1zm17 0h1v1h-1zm-13 1h1v1h-1zm0 2h1v1h-1z" fill="#5a5a5a"/>
<path d="M0 0m474 443h1v1h-1zm-1 1h1v1h-1zm2 0h1v1h-1zm2 0h1v1h-1zm2 0h1v1h-1zm-5 1h1v1h-1zm1 0h1v1h-1zm1 0h1v1h-1zm1 0h1v1h-1zm1 0h1v1h-1zm1 0h1v1h-1zm2 0h1v1h-1zm-8 1h1v1h-1zm5 0h1v1h-1zm1 0h1v1h-1zm1 0h1v1h-1zm1 0h1v1h-1zm2 0h1v1h-1zm-7 1h1v1h-1zm1 0h1v1h-1zm3 0h1v1h-1zm1 0h1v1h-1zm1 0h1v1h-1zm-6 1h1v1h-1zm1 0h1v1h-1zm2 0h1v1h-1zm1 0h1v1h-1zm1 0h1v1h-1zm-3 1h1v1h-1zm-1 21h1v1h-1zm5 0h1v1h-1zm1 0h1v1h-1zm-13 1h1v1h-1zm3 0h1v1h-1zm1 0h1v1h-1zm2 0h1v1h-1zm2 0h1v1h-1zm1 0h1v1h-1zm4 0h1v1h-1zm-12 1h1v1h-1zm3 0h1v1h-1zm2 0h1v1h-1zm1 0h1v1h-1zm1 0h1v1h-1zm1 0h1v1h-1zm1 0h1v1h-1zm2 0h1v1h-1zm2 0h1v1h-1zm1 0h1v1h-1zm4 0h1v1h-1zm-20 1h1v1h-1zm2 0h1v1h-1zm14 0h1v1h-1zm2 0h1v1h-1zm1 0h1v1h-1zm0 1h1v1h-1zm-22 1h1v1h-1zm23 0h1v1h-1zm0 1h1v1h-1zm2 0h1v1h-1zm-26 1h1v1h-1zm0 2h1v1h-1zm1 0h1v1h-1zm23 0h1v1h-1zm0 1h1v1h-1zm1 0h1v1h-1zm1 0h1v1h-1zm-26 1h1v1h-1zm25 0h1v1h-1zm-26 1h1v1h-1zm1 0h1v1h-1zm25 0h1v1h-1zm-1 1h1v1h-1zm0 1h1v1h-1zm-25 1h1v1h-1zm27 0h1v1h-1zm-2 1h1v1h-1zm1 0h1v1h-1zm-8 1h1v1h-1zm8 0h1v1h-1zm-25 1h1v1h-1zm0 1h1v1h-1zm1 0h1v1h-1zm23 0h1v1h-1zm-24 1h1v1h-1zm2 1h1v1h-1zm1 0h1v1h-1zm20 0h1v1h-1zm1 0h1v1h-1zm1 0h1v1h-1zm-24 1h1v1h-1zm1 0h1v1h-1zm1 0h1v1h-1zm1 0h1v1h-1zm1 0h1v1h-1zm1 0h1v1h-1zm13 0h1v1h-1zm1 0h1v1h-1zm3 0h1v1h-1zm-19 1h1v1h-1zm5 0h1v1h-1zm1 0h1v1h-1zm14 0h1v1h-1zm-13 1h1v1h-1zm3 0h1v1h-1zm5 0h1v1h-1zm5 0h1v1h-1zm-16 1h1v1h-1zm5 0h1v1h-1zm5 0h1v1h-1zm1 0h1v1h-1zm1 0h1v1h-1zm1 0h1v1h-1zm2 0h1v1h-1zm-11 1h1v1h-1zm3 0h1v1h-1zm8 0h1v1h-1zm-12 1h1v1h-1zm3 0h1v1h-1zm8 0h1v1h-1zm1 0h1v1h-1zm1 0h1v1h-1zm-5 1h1v1h-1zm3 0h1v1h-1zm2 0h1v1h-1zm-11 1h1v1h-1zm1 0h1v1h-1zm1 0h1v1h-1zm5 0h1v1h-1zm1 0h1v1h-1zm-7 1h1v1h-1zm1 0h1v1h-1zm2 0h1v1h-1zm1 0h1v1h-1zm1 0h1v1h-1zm2 0h1v1h-1zm1 0h1v1h-1zm-6 1h1v1h-1zm1 0h1v1h-1zm2 0h1v1h-1zm2 0h1v1h-1zm1 0h1v1h-1zm2 0h1v1h-1zm-12 1h1v1h-1zm2 0h1v1h-1zm1 0h1v1h-1zm2 0h1v1h-1zm3 0h1v1h-1zm3 0h1v1h-1zm1 0h1v1h-1zm-8 1h1v1h-1zm1 0h1v1h-1zm1 0h1v1h-1zm1 0h1v1h-1zm1 0h1v1h-1zm1 0h1v1h-1zm1 0h1v1h-1zm1 0h1v1h-1zm-9 1h1v1h-1zm1 0h1v1h-1zm2 0h1v1h-1zm1 0h1v1h-1zm1 0h1v1h-1zm2 0h1v1h-1zm1 0h1v1h-1zm1 0h1v1h-1zm-13 1h1v1h-1zm2 0h1v1h-1zm2 0h1v1h-1zm1 0h1v1h-1zm3 0h1v1h-1zm2 0h1v1h-1zm1 0h1v1h-1zm1 0h1v1h-1zm-8 1h1v1h-1zm1 0h1v1h-1zm2 0h1v1h-1zm-4 1h1v1h-1zm1 0h1v1h-1zm1 0h1v1h-1zm3 0h1v1h-1zm2 0h1v1h-1zm2 0h1v1h-1zm3 0h1v1h-1zm2 0h1v1h-1zm-14 1h1v1h-1zm2 0h1v1h-1zm2 0h1v1h-1zm2 0h1v1h-1zm2 0h1v1h-1zm2 0h1v1h-1zm-8 1h1v1h-1zm2 0h1v1h-1zm2 0h1v1h-1zm1 0h1v1h-1zm-3 1h1v1h-1zm1 0h1v1h-1zm4 0h1v1h-1zm-5 1h1v1h-1zm2 0h1v1h-1zm1 0h1v1h-1zm1 0h1v1h-1zm1 0h1v1h-1zm2 0h1v1h-1zm-13 1h1v1h-1zm7 0h1v1h-1zm3 0h1v1h-1zm2 0h1v1h-1zm-1 1h1v1h-1zm-5 1h1v1h-1zm1 0h1v1h-1zm2 0h1v1h-1zm-3 1h1v1h-1zm2 0h1v1h-1zm-5 1h1v1h-1zm7 0h1v1h-1zm-3 1h1v1h-1zm3 0h1v1h-1zm-7 1h1v1h-1zm7 0h1v1h-1zm-3 1h1v1h-1zm-6 1h1v1h-1z" fill="#1e1e1e"/>
<polygon points="466.5,475.0 469,473.3 473,473.5 477,472.8 481,473.0 485,473.2 488.4,474.5 489.3,478.0 489.2,484.0 489,490.0 488,496.0 486,501.0 484,504.0 482,502.0 480.5,498.0 478,495.0 475,493.0 471,492.0 467.5,491.5 466,488.0 466,480.0" fill="#0a0a0a"/>
<path d="M0 0m467 474h1v1h-1zm-1 1h1v1h-1zm1 0h1v1h-1zm1 0h1v1h-1zm1 0h1v1h-1zm-1 2h1v1h-1zm-1 1h1v1h-1zm1 1h1v1h-1zm-1 2h1v1h-1zm-1 2h1v1h-1zm2 1h1v1h-1zm3 0h1v1h-1zm10 0h1v1h-1zm-15 1h1v1h-1zm1 0h1v1h-1zm1 0h1v1h-1zm0 1h1v1h-1zm1 0h1v1h-1zm1 0h1v1h-1zm-2 1h1v1h-1zm1 0h1v1h-1zm1 0h1v1h-1zm3 0h1v1h-1zm1 0h1v1h-1zm-7 1h1v1h-1zm1 0h1v1h-1zm1 0h1v1h-1zm1 0h1v1h-1zm3 0h1v1h-1zm-6 1h1v1h-1zm1 0h1v1h-1zm2 0h1v1h-1zm1 0h1v1h-1zm3 0h1v1h-1zm-6 1h1v1h-1zm1 0h1v1h-1zm4 0h1v1h-1zm-4 1h1v1h-1zm4 0h1v1h-1zm1 1h1v1h-1z" fill="#fff" fill-opacity="0.85"/>
</g>
<polygon points="436.2,433.0 474.8,433.0 487.6,446.0 465.6,455.9 462,454.5 436.2,454.5" fill="none" stroke="#222" stroke-width="0.9" stroke-linejoin="round"/>
<polygon points="465.6,455.9 487.6,446.0 491.8,468.3 470.6,470.5 470.6,460.4" fill="none" stroke="#222" stroke-width="0.9" stroke-linejoin="round"/>
<polygon points="470.6,470.5 491.8,468.3 492.3,522.6 464.5,522.6 464.5,477.5" fill="none" stroke="#222" stroke-width="0.9" stroke-linejoin="round"/>
<text x="410.6" y="438.0" font-size="7.4" fill="#0a0a0a" stroke="#0a0a0a" stroke-width="0.18" textLength="51.5" lengthAdjust="spacingAndGlyphs">CD14<tspan font-size="5.6" font-weight="bold" dy="-0.4">+</tspan><tspan dy="0.4">CD16</tspan><tspan font-size="5.6" font-weight="bold" dy="-0.4">++</tspan></text>
<text x="408.9" y="466.9" font-size="7.4" fill="#0a0a0a" stroke="#0a0a0a" stroke-width="0.18" textLength="51" lengthAdjust="spacingAndGlyphs">CD14<tspan font-size="5.6" font-weight="bold" dy="-0.4">++</tspan><tspan dy="0.4">CD16</tspan><tspan font-size="5.6" font-weight="bold" dy="-0.4">+</tspan></text>
<text x="409.6" y="519.3" font-size="7.4" fill="#0a0a0a" stroke="#0a0a0a" stroke-width="0.18" textLength="49.5" lengthAdjust="spacingAndGlyphs">CD14<tspan font-size="5.6" font-weight="bold" dy="-0.4">++</tspan><tspan dy="0.4">CD16-</tspan></text>
<path d="M406.7,523.2v2.8M410.0,523.2v2.8M412.6,523.2v2.8M414.7,523.2v2.8M416.5,523.2v2.8M418.0,523.2v2.8M419.4,523.2v2.8M420.6,523.2v3.8M428.6,523.2v2.8M433.3,523.2v2.8M436.6,523.2v2.8M439.2,523.2v2.8M441.3,523.2v2.8M443.1,523.2v2.8M444.6,523.2v2.8M446.0,523.2v2.8M447.2,523.2v3.8M455.2,523.2v2.8M459.9,523.2v2.8M463.2,523.2v2.8M465.8,523.2v2.8M467.9,523.2v2.8M469.7,523.2v2.8M471.2,523.2v2.8M472.6,523.2v2.8M473.8,523.2v3.8M481.8,523.2v2.8M486.5,523.2v2.8M489.8,523.2v2.8M492.4,523.2v2.8M494.5,523.2v2.8M496.3,523.2v2.8M497.8,523.2v2.8M499.2,523.2v2.8M500.4,523.2v3.8M508.4,523.2v2.8M405.2,436.8h-3.8M405.2,429.5h-2.4M405.2,461.0h-3.8M405.2,453.7h-2.4M405.2,449.5h-2.4M405.2,446.4h-2.4M405.2,444.1h-2.4M405.2,442.2h-2.4M405.2,440.5h-2.4M405.2,439.1h-2.4M405.2,437.9h-2.4M405.2,485.3h-3.8M405.2,478.0h-2.4M405.2,473.7h-2.4M405.2,470.7h-2.4M405.2,468.3h-2.4M405.2,466.4h-2.4M405.2,464.8h-2.4M405.2,463.4h-2.4M405.2,462.1h-2.4M405.2,509.5h-3.8M405.2,502.2h-2.4M405.2,498.0h-2.4M405.2,494.9h-2.4M405.2,492.6h-2.4M405.2,490.7h-2.4M405.2,489.0h-2.4M405.2,487.6h-2.4M405.2,486.4h-2.4M405.2,522.2h-2.4M405.2,519.1h-2.4M405.2,516.8h-2.4M405.2,514.9h-2.4M405.2,513.2h-2.4M405.2,511.8h-2.4M405.2,510.6h-2.4" stroke="#1a1a1a" stroke-width="0.85"/>
<text x="418.7" y="535.4" font-size="5.6" text-anchor="middle" fill="#000" letter-spacing="-0.25">10</text>
<text x="421.6" y="531.4" font-size="5.4" fill="#000">2</text>
<text x="445.3" y="535.4" font-size="5.6" text-anchor="middle" fill="#000" letter-spacing="-0.25">10</text>
<text x="448.2" y="531.4" font-size="5.4" fill="#000">3</text>
<text x="471.9" y="535.4" font-size="5.6" text-anchor="middle" fill="#000" letter-spacing="-0.25">10</text>
<text x="474.8" y="531.4" font-size="5.4" fill="#000">4</text>
<text x="498.5" y="535.4" font-size="5.6" text-anchor="middle" fill="#000" letter-spacing="-0.25">10</text>
<text x="501.4" y="531.4" font-size="5.4" fill="#000">5</text>
<text transform="translate(398.9,437.2) rotate(-90)" font-size="5.9" text-anchor="middle" fill="#000" letter-spacing="-0.3">10</text>
<text transform="translate(395.0,434.2) rotate(-90)" font-size="5.4" fill="#000">5</text>
<text transform="translate(398.9,461.4) rotate(-90)" font-size="5.9" text-anchor="middle" fill="#000" letter-spacing="-0.3">10</text>
<text transform="translate(395.0,458.4) rotate(-90)" font-size="5.4" fill="#000">4</text>
<text transform="translate(398.9,485.7) rotate(-90)" font-size="5.9" text-anchor="middle" fill="#000" letter-spacing="-0.3">10</text>
<text transform="translate(395.0,482.7) rotate(-90)" font-size="5.4" fill="#000">3</text>
<text transform="translate(398.9,509.9) rotate(-90)" font-size="5.9" text-anchor="middle" fill="#000" letter-spacing="-0.3">10</text>
<text transform="translate(395.0,506.9) rotate(-90)" font-size="5.4" fill="#000">2</text>
<text x="458.4" y="544.9" font-size="7.4" text-anchor="middle" fill="#111" stroke="#111" stroke-width="0.18" textLength="45.5" lengthAdjust="spacingAndGlyphs">CD14 FITC-A</text>
<text transform="translate(389.4,474.5) rotate(-90)" font-size="7.5" text-anchor="middle" fill="#111" stroke="#111" stroke-width="0.18" textLength="37.8" lengthAdjust="spacingAndGlyphs">CD16 PE-A</text>
</svg></body></html>
